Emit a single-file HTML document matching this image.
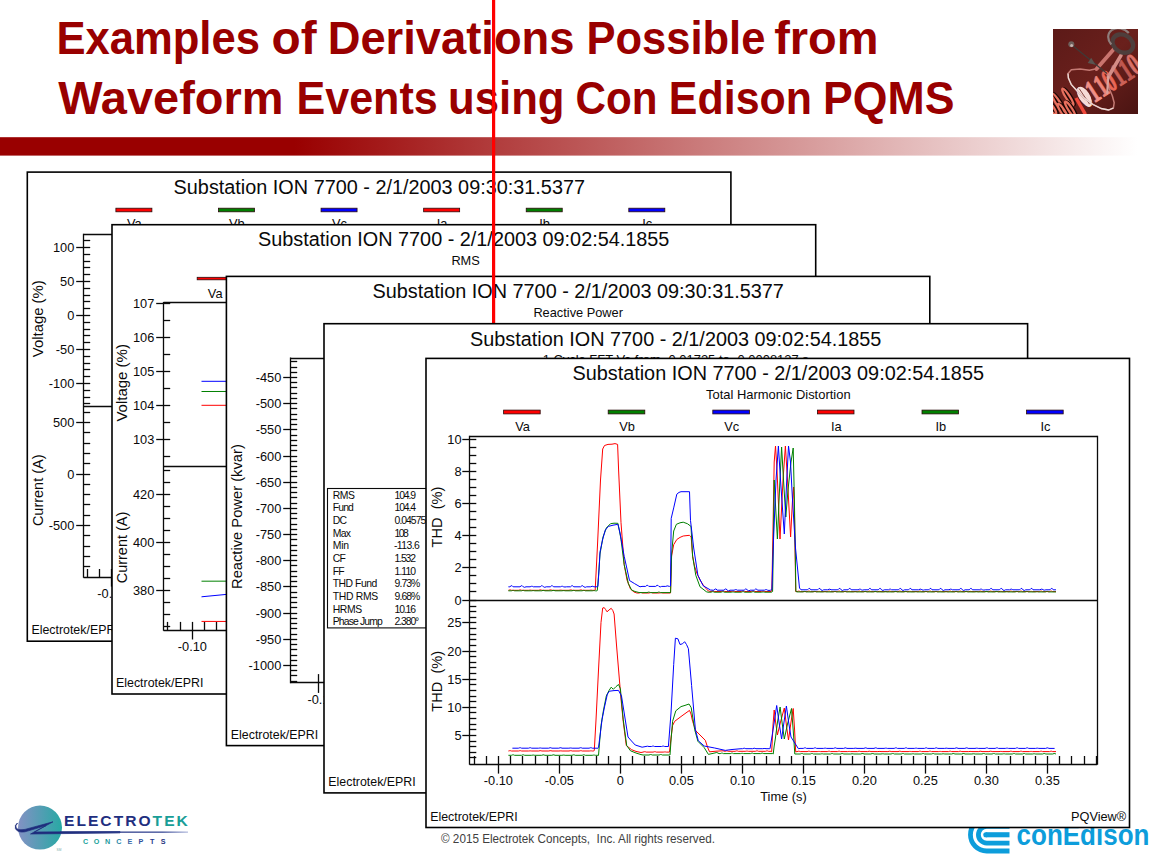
<!DOCTYPE html>
<html><head><meta charset="utf-8"><title>Examples of Derivations Possible from Waveform Events using Con Edison PQMS</title>
<style>html,body{margin:0;padding:0;background:#fff;overflow:hidden}svg{display:block}text{font-family:"Liberation Sans",sans-serif}</style>
</head><body>
<svg width="1155" height="855" viewBox="0 0 1155 855">
<defs>
<linearGradient id="bar" x1="0" y1="0" x2="1" y2="0">
<stop offset="0" stop-color="#990000"/><stop offset="0.255" stop-color="#990000"/>
<stop offset="0.985" stop-color="#ffffff"/><stop offset="1" stop-color="#ffffff"/>
</linearGradient>
<linearGradient id="lg1" x1="0" y1="0" x2="1" y2="1">
<stop offset="0" stop-color="#5c1a18"/><stop offset="0.5" stop-color="#6a201c"/><stop offset="1" stop-color="#4a1412"/>
</linearGradient>
<linearGradient id="ek" x1="0" y1="0" x2="1" y2="0">
<stop offset="0" stop-color="#8391c4"/><stop offset="1" stop-color="#27a9a4"/>
</linearGradient>
<linearGradient id="ekl" x1="0" y1="0" x2="1" y2="0">
<stop offset="0" stop-color="#1e2c7c"/><stop offset="0.8" stop-color="#3a4a96"/><stop offset="1" stop-color="#b8c0e0"/>
</linearGradient>
<clipPath id="cl1"><rect x="1053" y="29" width="85" height="85"/></clipPath>
</defs>
<rect x="0" y="0" width="1155" height="855" fill="#fff"/>
<text x="0" y="0" font-size="46.5" font-weight="bold" fill="#990000" transform="translate(56.39 54.4) scale(0.9378 1)">Examples</text>
<text x="0" y="0" font-size="46.5" font-weight="bold" fill="#990000" transform="translate(271.45 54.4) scale(1.0284 1)">of</text>
<text x="0" y="0" font-size="46.5" font-weight="bold" fill="#990000" transform="translate(327.68 54.4) scale(0.9746 1)">Derivations</text>
<text x="0" y="0" font-size="46.5" font-weight="bold" fill="#990000" transform="translate(586.4 54.4) scale(0.9362 1)">Possible</text>
<text x="0" y="0" font-size="46.5" font-weight="bold" fill="#990000" transform="translate(774.19 54.4) scale(1.01 1)">from</text>
<text x="0" y="0" font-size="46.5" font-weight="bold" fill="#990000" transform="translate(58.2 113.6) scale(1.0104 1)">Waveform</text>
<text x="0" y="0" font-size="46.5" font-weight="bold" fill="#990000" transform="translate(296.43 113.6) scale(0.9268 1)">Events</text>
<text x="0" y="0" font-size="46.5" font-weight="bold" fill="#990000" transform="translate(447.97 113.6) scale(0.9407 1)">using</text>
<text x="0" y="0" font-size="46.5" font-weight="bold" fill="#990000" transform="translate(575.58 113.6) scale(0.9077 1)">Con</text>
<text x="0" y="0" font-size="46.5" font-weight="bold" fill="#990000" transform="translate(668.84 113.6) scale(0.9235 1)">Edison</text>
<text x="0" y="0" font-size="46.5" font-weight="bold" fill="#990000" transform="translate(823.02 113.6) scale(0.9598 1)">PQMS</text>
<rect x="0" y="137.2" width="1155" height="18.4" fill="url(#bar)"/>
<g clip-path="url(#cl1)">
<rect x="1053" y="29" width="85" height="85" fill="url(#lg1)"/>
<g fill="none">
<ellipse cx="1057.9" cy="102.7" rx="2.0" ry="11.1" stroke="#1a0504" stroke-width="2.4" transform="rotate(-33 1057.9 102.7) translate(1.2 0.6)"/>
<ellipse cx="1057.9" cy="102.7" rx="2.0" ry="11.1" stroke="#e8705e" stroke-width="2.2" transform="rotate(-33 1057.9 102.7)"/>
<ellipse cx="1067.8" cy="96.9" rx="2.0" ry="9.9" stroke="#1a0504" stroke-width="2.4" transform="rotate(-33 1067.8 96.9) translate(1.2 0.6)"/>
<ellipse cx="1067.8" cy="96.9" rx="2.0" ry="9.9" stroke="#e8705e" stroke-width="2.2" transform="rotate(-33 1067.8 96.9)"/>
<ellipse cx="1062.5" cy="110.9" rx="2.0" ry="8.2" stroke="#1a0504" stroke-width="2.4" transform="rotate(-33 1062.5 110.9) translate(1.2 0.6)"/>
<ellipse cx="1062.5" cy="110.9" rx="2.0" ry="8.2" stroke="#e8705e" stroke-width="2.2" transform="rotate(-33 1062.5 110.9)"/>
<ellipse cx="1070.1" cy="109.1" rx="2.0" ry="8.8" stroke="#1a0504" stroke-width="2.4" transform="rotate(-33 1070.1 109.1) translate(1.2 0.6)"/>
<ellipse cx="1070.1" cy="109.1" rx="2.0" ry="8.8" stroke="#e8705e" stroke-width="2.2" transform="rotate(-33 1070.1 109.1)"/>
<ellipse cx="1052.0" cy="108.5" rx="2.0" ry="7.0" stroke="#1a0504" stroke-width="2.4" transform="rotate(-33 1052.0 108.5) translate(1.2 0.6)"/>
<ellipse cx="1052.0" cy="108.5" rx="2.0" ry="7.0" stroke="#e8705e" stroke-width="2.2" transform="rotate(-33 1052.0 108.5)"/>
<line x1="1076.0" y1="98.0" x2="1085.4" y2="114.4" stroke="#f04a3c" stroke-width="3.4"/>
</g>
<text x="0" y="0" font-size="32" style="font-family:&quot;Liberation Serif&quot;,serif" font-weight="bold" stroke-width="0.9" transform="translate(1085.9 108.4) rotate(-33) scale(0.62 1)"><tspan fill="#f8e0da" stroke="#f8e0da">0</tspan><tspan fill="#f09088" stroke="#f09088">1</tspan><tspan fill="#ec8478" stroke="#ec8478">1</tspan><tspan fill="#e86858" stroke="#e86858">0</tspan><tspan fill="#cc6258" stroke="#cc6258">1</tspan><tspan fill="#c05850" stroke="#c05850">1</tspan><tspan fill="#d87068" stroke="#d87068">0</tspan></text>
<ellipse cx="1084.3" cy="96.2" rx="5.4" ry="10.6" fill="#f6dcd6" transform="rotate(-33 1084.3 96.2)"/>
<line x1="1079.2" y1="88.6" x2="1089.6" y2="104.2" stroke="#7a3a34" stroke-width="0.9"/>
<polyline points="1096.5,68.8 1089.4,70.2 1080.1,69.0 1071.3,69.7 1068.0,73.5 1068.4,78.1 1071.3,84.6 1077.2,91.0 1084.8,98.6 1093.0,104.5 1101.1,108.5 1108.7,110.0 1113.4,108.0 1114.2,102.7 1112.3,95.7 1109.3,88.7 1107.8,82.8 1107.6,77.0" fill="none" stroke="#c47a74" stroke-width="1.5" stroke-linejoin="round"/>
<polyline points="1068.0,73.5 1068.4,78.1 1071.3,84.6 1077.2,91.0 1084.8,98.6 1093.0,104.5 1101.1,108.5 1108.7,110.0 1113.4,108.0" fill="none" stroke="#eadcd8" stroke-width="1.3" stroke-linejoin="round"/>
<line x1="1114.6" y1="48.3" x2="1096.5" y2="69.0" stroke="#c9746e" stroke-width="3.8" stroke-linecap="round"/>
<line x1="1121.0" y1="55.3" x2="1108.2" y2="77.0" stroke="#d48c86" stroke-width="3.6" stroke-linecap="round"/>
<line x1="1108.2" y1="77.0" x2="1107.2" y2="93.3" stroke="#d9a09a" stroke-width="2.2" stroke-linecap="round"/>
<ellipse cx="1122.8" cy="43.6" rx="10.8" ry="8.6" fill="none" stroke="#4e3e3c" stroke-width="4.4" transform="rotate(30 1122.8 43.6)"/>
<path d="M1111.3 44.6 A11.5 9.4 30 0 1 1128.8 33.1" fill="none" stroke="#8e7e7c" stroke-width="2.2"/>
<line x1="1073.1" y1="46.0" x2="1107.0" y2="73.5" stroke="#3e3a38" stroke-width="1.1"/>
<circle cx="1071.3" cy="44.2" r="3" fill="#6e605c"/>
<circle cx="1071.6" cy="45.400000000000006" r="1.5" fill="#c8b4b0"/>
<path d="M1095.5 64.7 L1091.2 57.7 L1087.7 62.9 Z" fill="#5a5450"/>
</g>
<circle cx="40" cy="827.6" r="22" fill="url(#ek)"/>
<path d="M17.5 823 Q14.6 826 16.6 828.6 Q19 830.6 25 829.4 L53 821.8 L34.5 832 L120 831.5 L120 832.9 L30.5 834 L46 825.6 L25 831.8 Q17.5 833 15.4 828.6 Q14.4 825 17.5 823 Z" fill="#1e2c7c" stroke="#1e2c7c" stroke-width="0.7" stroke-linejoin="round"/>
<rect x="60" y="831.5" width="128" height="1.3" fill="url(#ekl)"/>
<text transform="translate(64 826.4) scale(1.09 1)" x="0" y="0" font-size="14.3" font-weight="bold" textLength="113.6" lengthAdjust="spacing"><tspan fill="#1f2f80">ELECTRO</tspan><tspan fill="#199e97">TEK</tspan></text>
<text x="85.5" y="843.8" font-size="7.2" text-anchor="middle" font-weight="bold" fill="#1aa39b">C</text>
<text x="96.6" y="843.8" font-size="7.2" text-anchor="middle" font-weight="bold" fill="#1aa39b">O</text>
<text x="107.7" y="843.8" font-size="7.2" text-anchor="middle" font-weight="bold" fill="#1f9aa0">N</text>
<text x="118.8" y="843.8" font-size="7.2" text-anchor="middle" font-weight="bold" fill="#2a88a8">C</text>
<text x="129.9" y="843.8" font-size="7.2" text-anchor="middle" font-weight="bold" fill="#3a6aa8">E</text>
<text x="141" y="843.8" font-size="7.2" text-anchor="middle" font-weight="bold" fill="#30509a">P</text>
<text x="152.1" y="843.8" font-size="7.2" text-anchor="middle" font-weight="bold" fill="#283c8c">T</text>
<text x="163.2" y="843.8" font-size="7.2" text-anchor="middle" font-weight="bold" fill="#24347f">S</text>
<text x="56.5" y="850.6" font-size="3.2" fill="#7aa">SM</text>
<g fill="none" stroke="#0d9ddb">
<path d="M1009.5 818.5 L986.7 818.5 A16.25 16.25 0 0 0 986.7 851 L1009.5 851" stroke-width="4.8"/>
<path d="M1009.5 826.45 L986.7 826.45 A8.3 8.3 0 0 0 986.7 843.05 L1009.5 843.05" stroke-width="4.8"/>
<path d="M985.8 834.75 L1009.5 834.75" stroke-width="5.1"/>
</g>
<circle cx="985.8" cy="834.75" r="2.55" fill="#0d9ddb"/>
<text x="1016.6" y="845.4" font-size="30" textLength="132.8" lengthAdjust="spacingAndGlyphs" font-weight="bold" fill="#0d9ddb">conEdison</text>
<text x="441" y="843" font-size="12.2" textLength="274" lengthAdjust="spacingAndGlyphs" fill="#404040" xml:space="preserve">© 2015 Electrotek Concepts,  Inc. All rights reserved.</text>
<rect x="27.3" y="172.1" width="703.6" height="469.1" fill="#fff" stroke="#000" stroke-width="1.6"/>
<text x="379.3" y="193.6" font-size="19.6" text-anchor="middle" textLength="411.4" lengthAdjust="spacingAndGlyphs" fill="#0a0a0a">Substation ION 7700 - 2/1/2003 09:30:31.5377</text>
<rect x="115.89" y="208.2" width="36" height="3.6" fill="#ff0000" stroke="#2a0a0a" stroke-width="0.8"/>
<text x="134.29" y="228.3" font-size="12.8" text-anchor="middle" fill="#0a0a0a">Va</text>
<rect x="218.47" y="208.2" width="36" height="3.6" fill="#008000" stroke="#2a0a0a" stroke-width="0.8"/>
<text x="236.88" y="228.3" font-size="12.8" text-anchor="middle" fill="#0a0a0a">Vb</text>
<rect x="321.06" y="208.2" width="36" height="3.6" fill="#0000ff" stroke="#2a0a0a" stroke-width="0.8"/>
<text x="339.46" y="228.3" font-size="12.8" text-anchor="middle" fill="#0a0a0a">Vc</text>
<rect x="423.64" y="208.2" width="36" height="3.6" fill="#ff0000" stroke="#2a0a0a" stroke-width="0.8"/>
<text x="442.04" y="228.3" font-size="12.8" text-anchor="middle" fill="#0a0a0a">Ia</text>
<rect x="526.23" y="208.2" width="36" height="3.6" fill="#008000" stroke="#2a0a0a" stroke-width="0.8"/>
<text x="544.62" y="228.3" font-size="12.8" text-anchor="middle" fill="#0a0a0a">Ib</text>
<rect x="628.81" y="208.2" width="36" height="3.6" fill="#0000ff" stroke="#2a0a0a" stroke-width="0.8"/>
<text x="647.21" y="228.3" font-size="12.8" text-anchor="middle" fill="#0a0a0a">Ic</text>
<line x1="83.5" y1="234.5" x2="699" y2="234.5" stroke="#0a0a0a" stroke-width="1.3"/>
<line x1="83.5" y1="406.5" x2="699" y2="406.5" stroke="#0a0a0a" stroke-width="1.3"/>
<line x1="83.5" y1="577.5" x2="699" y2="577.5" stroke="#0a0a0a" stroke-width="1.3"/>
<line x1="83.5" y1="233.75" x2="83.5" y2="577.85" stroke="#0a0a0a" stroke-width="1.3"/>
<line x1="699.5" y1="234.4" x2="699.5" y2="577.2" stroke="#0a0a0a" stroke-width="1.3"/>
<line x1="83.5" y1="403.5" x2="90.2" y2="403.5" stroke="#0a0a0a" stroke-width="1.3"/>
<line x1="83.5" y1="397.5" x2="90.2" y2="397.5" stroke="#0a0a0a" stroke-width="1.3"/>
<line x1="83.5" y1="390.5" x2="90.2" y2="390.5" stroke="#0a0a0a" stroke-width="1.3"/>
<line x1="76.2" y1="383.5" x2="90.2" y2="383.5" stroke="#0a0a0a" stroke-width="1.3"/>
<text x="74.3" y="387.9" font-size="12.8" text-anchor="end" fill="#0a0a0a">-100</text>
<line x1="83.5" y1="376.5" x2="90.2" y2="376.5" stroke="#0a0a0a" stroke-width="1.3"/>
<line x1="83.5" y1="369.5" x2="90.2" y2="369.5" stroke="#0a0a0a" stroke-width="1.3"/>
<line x1="83.5" y1="363.5" x2="90.2" y2="363.5" stroke="#0a0a0a" stroke-width="1.3"/>
<line x1="83.5" y1="356.5" x2="90.2" y2="356.5" stroke="#0a0a0a" stroke-width="1.3"/>
<line x1="76.2" y1="349.5" x2="90.2" y2="349.5" stroke="#0a0a0a" stroke-width="1.3"/>
<text x="74.3" y="353.9" font-size="12.8" text-anchor="end" fill="#0a0a0a">-50</text>
<line x1="83.5" y1="342.5" x2="90.2" y2="342.5" stroke="#0a0a0a" stroke-width="1.3"/>
<line x1="83.5" y1="335.5" x2="90.2" y2="335.5" stroke="#0a0a0a" stroke-width="1.3"/>
<line x1="83.5" y1="329.5" x2="90.2" y2="329.5" stroke="#0a0a0a" stroke-width="1.3"/>
<line x1="83.5" y1="322.5" x2="90.2" y2="322.5" stroke="#0a0a0a" stroke-width="1.3"/>
<line x1="76.2" y1="315.5" x2="90.2" y2="315.5" stroke="#0a0a0a" stroke-width="1.3"/>
<text x="74.3" y="319.9" font-size="12.8" text-anchor="end" fill="#0a0a0a">0</text>
<line x1="83.5" y1="308.5" x2="90.2" y2="308.5" stroke="#0a0a0a" stroke-width="1.3"/>
<line x1="83.5" y1="301.5" x2="90.2" y2="301.5" stroke="#0a0a0a" stroke-width="1.3"/>
<line x1="83.5" y1="295.5" x2="90.2" y2="295.5" stroke="#0a0a0a" stroke-width="1.3"/>
<line x1="83.5" y1="288.5" x2="90.2" y2="288.5" stroke="#0a0a0a" stroke-width="1.3"/>
<line x1="76.2" y1="281.5" x2="90.2" y2="281.5" stroke="#0a0a0a" stroke-width="1.3"/>
<text x="74.3" y="285.9" font-size="12.8" text-anchor="end" fill="#0a0a0a">50</text>
<line x1="83.5" y1="274.5" x2="90.2" y2="274.5" stroke="#0a0a0a" stroke-width="1.3"/>
<line x1="83.5" y1="267.5" x2="90.2" y2="267.5" stroke="#0a0a0a" stroke-width="1.3"/>
<line x1="83.5" y1="261.5" x2="90.2" y2="261.5" stroke="#0a0a0a" stroke-width="1.3"/>
<line x1="83.5" y1="254.5" x2="90.2" y2="254.5" stroke="#0a0a0a" stroke-width="1.3"/>
<line x1="76.2" y1="247.5" x2="90.2" y2="247.5" stroke="#0a0a0a" stroke-width="1.3"/>
<text x="74.3" y="251.9" font-size="12.8" text-anchor="end" fill="#0a0a0a">100</text>
<line x1="83.5" y1="240.5" x2="90.2" y2="240.5" stroke="#0a0a0a" stroke-width="1.3"/>
<line x1="83.5" y1="566.5" x2="90.2" y2="566.5" stroke="#0a0a0a" stroke-width="1.3"/>
<line x1="83.5" y1="556.5" x2="90.2" y2="556.5" stroke="#0a0a0a" stroke-width="1.3"/>
<line x1="83.5" y1="546.5" x2="90.2" y2="546.5" stroke="#0a0a0a" stroke-width="1.3"/>
<line x1="83.5" y1="535.5" x2="90.2" y2="535.5" stroke="#0a0a0a" stroke-width="1.3"/>
<line x1="76.2" y1="525.5" x2="90.2" y2="525.5" stroke="#0a0a0a" stroke-width="1.3"/>
<text x="74.3" y="530.1" font-size="12.8" text-anchor="end" fill="#0a0a0a">-500</text>
<line x1="83.5" y1="515.5" x2="90.2" y2="515.5" stroke="#0a0a0a" stroke-width="1.3"/>
<line x1="83.5" y1="504.5" x2="90.2" y2="504.5" stroke="#0a0a0a" stroke-width="1.3"/>
<line x1="83.5" y1="494.5" x2="90.2" y2="494.5" stroke="#0a0a0a" stroke-width="1.3"/>
<line x1="83.5" y1="484.5" x2="90.2" y2="484.5" stroke="#0a0a0a" stroke-width="1.3"/>
<line x1="76.2" y1="474.5" x2="90.2" y2="474.5" stroke="#0a0a0a" stroke-width="1.3"/>
<text x="74.3" y="478.5" font-size="12.8" text-anchor="end" fill="#0a0a0a">0</text>
<line x1="83.5" y1="463.5" x2="90.2" y2="463.5" stroke="#0a0a0a" stroke-width="1.3"/>
<line x1="83.5" y1="453.5" x2="90.2" y2="453.5" stroke="#0a0a0a" stroke-width="1.3"/>
<line x1="83.5" y1="443.5" x2="90.2" y2="443.5" stroke="#0a0a0a" stroke-width="1.3"/>
<line x1="83.5" y1="432.5" x2="90.2" y2="432.5" stroke="#0a0a0a" stroke-width="1.3"/>
<line x1="76.2" y1="422.5" x2="90.2" y2="422.5" stroke="#0a0a0a" stroke-width="1.3"/>
<text x="74.3" y="426.9" font-size="12.8" text-anchor="end" fill="#0a0a0a">500</text>
<line x1="83.5" y1="412.5" x2="90.2" y2="412.5" stroke="#0a0a0a" stroke-width="1.3"/>
<text x="42.8" y="318.7" font-size="14.6" text-anchor="middle" textLength="77" lengthAdjust="spacingAndGlyphs" transform="rotate(-90 42.8 318.7)" fill="#0a0a0a">Voltage (%)</text>
<text x="42.8" y="490.3" font-size="14.6" text-anchor="middle" textLength="71.6" lengthAdjust="spacingAndGlyphs" transform="rotate(-90 42.8 490.3)" fill="#0a0a0a">Current (A)</text>
<line x1="87.5" y1="569" x2="87.5" y2="577.2" stroke="#0a0a0a" stroke-width="1.3"/>
<line x1="99.5" y1="569" x2="99.5" y2="577.2" stroke="#0a0a0a" stroke-width="1.3"/>
<line x1="111.5" y1="569" x2="111.5" y2="586.6" stroke="#0a0a0a" stroke-width="1.3"/>
<text x="111.9" y="597.6" font-size="12.8" text-anchor="middle" fill="#0a0a0a">-0.10</text>
<line x1="124.5" y1="569" x2="124.5" y2="577.2" stroke="#0a0a0a" stroke-width="1.3"/>
<line x1="136.5" y1="569" x2="136.5" y2="577.2" stroke="#0a0a0a" stroke-width="1.3"/>
<line x1="148.5" y1="569" x2="148.5" y2="577.2" stroke="#0a0a0a" stroke-width="1.3"/>
<line x1="160.5" y1="569" x2="160.5" y2="577.2" stroke="#0a0a0a" stroke-width="1.3"/>
<line x1="173.5" y1="569" x2="173.5" y2="586.6" stroke="#0a0a0a" stroke-width="1.3"/>
<text x="173.1" y="597.6" font-size="12.8" text-anchor="middle" fill="#0a0a0a">-0.05</text>
<line x1="185.5" y1="569" x2="185.5" y2="577.2" stroke="#0a0a0a" stroke-width="1.3"/>
<line x1="197.5" y1="569" x2="197.5" y2="577.2" stroke="#0a0a0a" stroke-width="1.3"/>
<line x1="209.5" y1="569" x2="209.5" y2="577.2" stroke="#0a0a0a" stroke-width="1.3"/>
<line x1="222.5" y1="569" x2="222.5" y2="577.2" stroke="#0a0a0a" stroke-width="1.3"/>
<line x1="234.5" y1="569" x2="234.5" y2="586.6" stroke="#0a0a0a" stroke-width="1.3"/>
<text x="234.3" y="597.6" font-size="12.8" text-anchor="middle" fill="#0a0a0a">0</text>
<line x1="246.5" y1="569" x2="246.5" y2="577.2" stroke="#0a0a0a" stroke-width="1.3"/>
<line x1="258.5" y1="569" x2="258.5" y2="577.2" stroke="#0a0a0a" stroke-width="1.3"/>
<line x1="271.5" y1="569" x2="271.5" y2="577.2" stroke="#0a0a0a" stroke-width="1.3"/>
<line x1="283.5" y1="569" x2="283.5" y2="577.2" stroke="#0a0a0a" stroke-width="1.3"/>
<line x1="295.5" y1="569" x2="295.5" y2="586.6" stroke="#0a0a0a" stroke-width="1.3"/>
<text x="295.5" y="597.6" font-size="12.8" text-anchor="middle" fill="#0a0a0a">0.05</text>
<line x1="307.5" y1="569" x2="307.5" y2="577.2" stroke="#0a0a0a" stroke-width="1.3"/>
<line x1="319.5" y1="569" x2="319.5" y2="577.2" stroke="#0a0a0a" stroke-width="1.3"/>
<line x1="332.5" y1="569" x2="332.5" y2="577.2" stroke="#0a0a0a" stroke-width="1.3"/>
<line x1="344.5" y1="569" x2="344.5" y2="577.2" stroke="#0a0a0a" stroke-width="1.3"/>
<line x1="356.5" y1="569" x2="356.5" y2="586.6" stroke="#0a0a0a" stroke-width="1.3"/>
<text x="356.7" y="597.6" font-size="12.8" text-anchor="middle" fill="#0a0a0a">0.10</text>
<line x1="368.5" y1="569" x2="368.5" y2="577.2" stroke="#0a0a0a" stroke-width="1.3"/>
<line x1="381.5" y1="569" x2="381.5" y2="577.2" stroke="#0a0a0a" stroke-width="1.3"/>
<line x1="393.5" y1="569" x2="393.5" y2="577.2" stroke="#0a0a0a" stroke-width="1.3"/>
<line x1="405.5" y1="569" x2="405.5" y2="577.2" stroke="#0a0a0a" stroke-width="1.3"/>
<line x1="417.5" y1="569" x2="417.5" y2="586.6" stroke="#0a0a0a" stroke-width="1.3"/>
<text x="417.9" y="597.6" font-size="12.8" text-anchor="middle" fill="#0a0a0a">0.15</text>
<line x1="430.5" y1="569" x2="430.5" y2="577.2" stroke="#0a0a0a" stroke-width="1.3"/>
<line x1="442.5" y1="569" x2="442.5" y2="577.2" stroke="#0a0a0a" stroke-width="1.3"/>
<line x1="454.5" y1="569" x2="454.5" y2="577.2" stroke="#0a0a0a" stroke-width="1.3"/>
<line x1="466.5" y1="569" x2="466.5" y2="577.2" stroke="#0a0a0a" stroke-width="1.3"/>
<line x1="479.5" y1="569" x2="479.5" y2="586.6" stroke="#0a0a0a" stroke-width="1.3"/>
<text x="479.1" y="597.6" font-size="12.8" text-anchor="middle" fill="#0a0a0a">0.20</text>
<line x1="491.5" y1="569" x2="491.5" y2="577.2" stroke="#0a0a0a" stroke-width="1.3"/>
<line x1="503.5" y1="569" x2="503.5" y2="577.2" stroke="#0a0a0a" stroke-width="1.3"/>
<line x1="515.5" y1="569" x2="515.5" y2="577.2" stroke="#0a0a0a" stroke-width="1.3"/>
<line x1="528.5" y1="569" x2="528.5" y2="577.2" stroke="#0a0a0a" stroke-width="1.3"/>
<line x1="540.5" y1="569" x2="540.5" y2="586.6" stroke="#0a0a0a" stroke-width="1.3"/>
<text x="540.3" y="597.6" font-size="12.8" text-anchor="middle" fill="#0a0a0a">0.25</text>
<line x1="552.5" y1="569" x2="552.5" y2="577.2" stroke="#0a0a0a" stroke-width="1.3"/>
<line x1="564.5" y1="569" x2="564.5" y2="577.2" stroke="#0a0a0a" stroke-width="1.3"/>
<line x1="577.5" y1="569" x2="577.5" y2="577.2" stroke="#0a0a0a" stroke-width="1.3"/>
<line x1="589.5" y1="569" x2="589.5" y2="577.2" stroke="#0a0a0a" stroke-width="1.3"/>
<line x1="601.5" y1="569" x2="601.5" y2="586.6" stroke="#0a0a0a" stroke-width="1.3"/>
<text x="601.5" y="597.6" font-size="12.8" text-anchor="middle" fill="#0a0a0a">0.30</text>
<line x1="613.5" y1="569" x2="613.5" y2="577.2" stroke="#0a0a0a" stroke-width="1.3"/>
<line x1="625.5" y1="569" x2="625.5" y2="577.2" stroke="#0a0a0a" stroke-width="1.3"/>
<line x1="638.5" y1="569" x2="638.5" y2="577.2" stroke="#0a0a0a" stroke-width="1.3"/>
<line x1="650.5" y1="569" x2="650.5" y2="577.2" stroke="#0a0a0a" stroke-width="1.3"/>
<line x1="662.5" y1="569" x2="662.5" y2="586.6" stroke="#0a0a0a" stroke-width="1.3"/>
<text x="662.7" y="597.6" font-size="12.8" text-anchor="middle" fill="#0a0a0a">0.35</text>
<line x1="674.5" y1="569" x2="674.5" y2="577.2" stroke="#0a0a0a" stroke-width="1.3"/>
<line x1="687.5" y1="569" x2="687.5" y2="577.2" stroke="#0a0a0a" stroke-width="1.3"/>
<text x="31.4" y="633.9" font-size="12.8" textLength="87.4" lengthAdjust="spacingAndGlyphs" fill="#0a0a0a">Electrotek/EPRI</text>
<rect x="112" y="224.7" width="703.7" height="469.3" fill="#fff" stroke="#000" stroke-width="1.6"/>
<text x="463.7" y="246.3" font-size="19.6" text-anchor="middle" textLength="411.4" lengthAdjust="spacingAndGlyphs" fill="#0a0a0a">Substation ION 7700 - 2/1/2003 09:02:54.1855</text>
<text x="465.6" y="264.8" font-size="12.8" text-anchor="middle" fill="#0a0a0a">RMS</text>
<rect x="197.18" y="277.3" width="36" height="2.5" fill="#ff0000" stroke="#2a0a0a" stroke-width="0.8"/>
<text x="215.18" y="297.6" font-size="12.8" text-anchor="middle" fill="#0a0a0a">Va</text>
<rect x="300.52" y="277.3" width="36" height="2.5" fill="#008000" stroke="#2a0a0a" stroke-width="0.8"/>
<text x="318.52" y="297.6" font-size="12.8" text-anchor="middle" fill="#0a0a0a">Vb</text>
<rect x="403.88" y="277.3" width="36" height="2.5" fill="#0000ff" stroke="#2a0a0a" stroke-width="0.8"/>
<text x="421.88" y="297.6" font-size="12.8" text-anchor="middle" fill="#0a0a0a">Vc</text>
<rect x="507.23" y="277.3" width="36" height="2.5" fill="#ff0000" stroke="#2a0a0a" stroke-width="0.8"/>
<text x="525.23" y="297.6" font-size="12.8" text-anchor="middle" fill="#0a0a0a">Ia</text>
<rect x="610.58" y="277.3" width="36" height="2.5" fill="#008000" stroke="#2a0a0a" stroke-width="0.8"/>
<text x="628.58" y="297.6" font-size="12.8" text-anchor="middle" fill="#0a0a0a">Ib</text>
<rect x="713.93" y="277.3" width="36" height="2.5" fill="#0000ff" stroke="#2a0a0a" stroke-width="0.8"/>
<text x="731.93" y="297.6" font-size="12.8" text-anchor="middle" fill="#0a0a0a">Ic</text>
<line x1="163.5" y1="302.5" x2="783.6" y2="302.5" stroke="#0a0a0a" stroke-width="1.3"/>
<line x1="163.5" y1="466.5" x2="783.6" y2="466.5" stroke="#0a0a0a" stroke-width="1.3"/>
<line x1="163.5" y1="630.5" x2="783.6" y2="630.5" stroke="#0a0a0a" stroke-width="1.3"/>
<line x1="163.5" y1="302.05" x2="163.5" y2="630.75" stroke="#0a0a0a" stroke-width="1.3"/>
<line x1="163.5" y1="456.5" x2="170.2" y2="456.5" stroke="#0a0a0a" stroke-width="1.3"/>
<line x1="156.2" y1="439.5" x2="170.2" y2="439.5" stroke="#0a0a0a" stroke-width="1.3"/>
<text x="154.3" y="444.4" font-size="12.8" text-anchor="end" fill="#0a0a0a">103</text>
<line x1="163.5" y1="422.5" x2="170.2" y2="422.5" stroke="#0a0a0a" stroke-width="1.3"/>
<line x1="156.2" y1="405.5" x2="170.2" y2="405.5" stroke="#0a0a0a" stroke-width="1.3"/>
<text x="154.3" y="410.4" font-size="12.8" text-anchor="end" fill="#0a0a0a">104</text>
<line x1="163.5" y1="388.5" x2="170.2" y2="388.5" stroke="#0a0a0a" stroke-width="1.3"/>
<line x1="156.2" y1="371.5" x2="170.2" y2="371.5" stroke="#0a0a0a" stroke-width="1.3"/>
<text x="154.3" y="376.4" font-size="12.8" text-anchor="end" fill="#0a0a0a">105</text>
<line x1="163.5" y1="354.5" x2="170.2" y2="354.5" stroke="#0a0a0a" stroke-width="1.3"/>
<line x1="156.2" y1="337.5" x2="170.2" y2="337.5" stroke="#0a0a0a" stroke-width="1.3"/>
<text x="154.3" y="342.4" font-size="12.8" text-anchor="end" fill="#0a0a0a">106</text>
<line x1="163.5" y1="320.5" x2="170.2" y2="320.5" stroke="#0a0a0a" stroke-width="1.3"/>
<line x1="156.2" y1="303.5" x2="170.2" y2="303.5" stroke="#0a0a0a" stroke-width="1.3"/>
<text x="154.3" y="308.4" font-size="12.8" text-anchor="end" fill="#0a0a0a">107</text>
<line x1="163.5" y1="626.5" x2="170.2" y2="626.5" stroke="#0a0a0a" stroke-width="1.3"/>
<line x1="163.5" y1="614.5" x2="170.2" y2="614.5" stroke="#0a0a0a" stroke-width="1.3"/>
<line x1="163.5" y1="602.5" x2="170.2" y2="602.5" stroke="#0a0a0a" stroke-width="1.3"/>
<line x1="156.2" y1="590.5" x2="170.2" y2="590.5" stroke="#0a0a0a" stroke-width="1.3"/>
<text x="154.3" y="594.9" font-size="12.8" text-anchor="end" fill="#0a0a0a">380</text>
<line x1="163.5" y1="578.5" x2="170.2" y2="578.5" stroke="#0a0a0a" stroke-width="1.3"/>
<line x1="163.5" y1="566.5" x2="170.2" y2="566.5" stroke="#0a0a0a" stroke-width="1.3"/>
<line x1="163.5" y1="554.5" x2="170.2" y2="554.5" stroke="#0a0a0a" stroke-width="1.3"/>
<line x1="156.2" y1="542.5" x2="170.2" y2="542.5" stroke="#0a0a0a" stroke-width="1.3"/>
<text x="154.3" y="546.9" font-size="12.8" text-anchor="end" fill="#0a0a0a">400</text>
<line x1="163.5" y1="530.5" x2="170.2" y2="530.5" stroke="#0a0a0a" stroke-width="1.3"/>
<line x1="163.5" y1="518.5" x2="170.2" y2="518.5" stroke="#0a0a0a" stroke-width="1.3"/>
<line x1="163.5" y1="506.5" x2="170.2" y2="506.5" stroke="#0a0a0a" stroke-width="1.3"/>
<line x1="156.2" y1="494.5" x2="170.2" y2="494.5" stroke="#0a0a0a" stroke-width="1.3"/>
<text x="154.3" y="498.9" font-size="12.8" text-anchor="end" fill="#0a0a0a">420</text>
<line x1="163.5" y1="482.5" x2="170.2" y2="482.5" stroke="#0a0a0a" stroke-width="1.3"/>
<line x1="163.5" y1="470.5" x2="170.2" y2="470.5" stroke="#0a0a0a" stroke-width="1.3"/>
<text x="127.2" y="382.8" font-size="14.6" text-anchor="middle" textLength="77.5" lengthAdjust="spacingAndGlyphs" transform="rotate(-90 127.2 382.8)" fill="#0a0a0a">Voltage (%)</text>
<text x="127.2" y="547.5" font-size="14.6" text-anchor="middle" textLength="71.6" lengthAdjust="spacingAndGlyphs" transform="rotate(-90 127.2 547.5)" fill="#0a0a0a">Current (A)</text>
<line x1="167.5" y1="621.9" x2="167.5" y2="630.1" stroke="#0a0a0a" stroke-width="1.3"/>
<line x1="180.5" y1="621.9" x2="180.5" y2="630.1" stroke="#0a0a0a" stroke-width="1.3"/>
<line x1="192.5" y1="621.9" x2="192.5" y2="639.5" stroke="#0a0a0a" stroke-width="1.3"/>
<text x="192.4" y="650.5" font-size="12.8" text-anchor="middle" fill="#0a0a0a">-0.10</text>
<line x1="204.5" y1="621.9" x2="204.5" y2="630.1" stroke="#0a0a0a" stroke-width="1.3"/>
<line x1="216.5" y1="621.9" x2="216.5" y2="630.1" stroke="#0a0a0a" stroke-width="1.3"/>
<line x1="229.5" y1="621.9" x2="229.5" y2="630.1" stroke="#0a0a0a" stroke-width="1.3"/>
<line x1="241.5" y1="621.9" x2="241.5" y2="630.1" stroke="#0a0a0a" stroke-width="1.3"/>
<line x1="253.5" y1="621.9" x2="253.5" y2="639.5" stroke="#0a0a0a" stroke-width="1.3"/>
<text x="253.6" y="650.5" font-size="12.8" text-anchor="middle" fill="#0a0a0a">-0.05</text>
<line x1="265.5" y1="621.9" x2="265.5" y2="630.1" stroke="#0a0a0a" stroke-width="1.3"/>
<line x1="278.5" y1="621.9" x2="278.5" y2="630.1" stroke="#0a0a0a" stroke-width="1.3"/>
<line x1="290.5" y1="621.9" x2="290.5" y2="630.1" stroke="#0a0a0a" stroke-width="1.3"/>
<line x1="302.5" y1="621.9" x2="302.5" y2="630.1" stroke="#0a0a0a" stroke-width="1.3"/>
<line x1="314.5" y1="621.9" x2="314.5" y2="639.5" stroke="#0a0a0a" stroke-width="1.3"/>
<text x="314.8" y="650.5" font-size="12.8" text-anchor="middle" fill="#0a0a0a">0</text>
<line x1="327.5" y1="621.9" x2="327.5" y2="630.1" stroke="#0a0a0a" stroke-width="1.3"/>
<line x1="339.5" y1="621.9" x2="339.5" y2="630.1" stroke="#0a0a0a" stroke-width="1.3"/>
<line x1="351.5" y1="621.9" x2="351.5" y2="630.1" stroke="#0a0a0a" stroke-width="1.3"/>
<line x1="363.5" y1="621.9" x2="363.5" y2="630.1" stroke="#0a0a0a" stroke-width="1.3"/>
<line x1="376.5" y1="621.9" x2="376.5" y2="639.5" stroke="#0a0a0a" stroke-width="1.3"/>
<text x="376" y="650.5" font-size="12.8" text-anchor="middle" fill="#0a0a0a">0.05</text>
<line x1="388.5" y1="621.9" x2="388.5" y2="630.1" stroke="#0a0a0a" stroke-width="1.3"/>
<line x1="400.5" y1="621.9" x2="400.5" y2="630.1" stroke="#0a0a0a" stroke-width="1.3"/>
<line x1="412.5" y1="621.9" x2="412.5" y2="630.1" stroke="#0a0a0a" stroke-width="1.3"/>
<line x1="424.5" y1="621.9" x2="424.5" y2="630.1" stroke="#0a0a0a" stroke-width="1.3"/>
<line x1="437.5" y1="621.9" x2="437.5" y2="639.5" stroke="#0a0a0a" stroke-width="1.3"/>
<text x="437.2" y="650.5" font-size="12.8" text-anchor="middle" fill="#0a0a0a">0.10</text>
<line x1="449.5" y1="621.9" x2="449.5" y2="630.1" stroke="#0a0a0a" stroke-width="1.3"/>
<line x1="461.5" y1="621.9" x2="461.5" y2="630.1" stroke="#0a0a0a" stroke-width="1.3"/>
<line x1="473.5" y1="621.9" x2="473.5" y2="630.1" stroke="#0a0a0a" stroke-width="1.3"/>
<line x1="486.5" y1="621.9" x2="486.5" y2="630.1" stroke="#0a0a0a" stroke-width="1.3"/>
<line x1="498.5" y1="621.9" x2="498.5" y2="639.5" stroke="#0a0a0a" stroke-width="1.3"/>
<text x="498.4" y="650.5" font-size="12.8" text-anchor="middle" fill="#0a0a0a">0.15</text>
<line x1="510.5" y1="621.9" x2="510.5" y2="630.1" stroke="#0a0a0a" stroke-width="1.3"/>
<line x1="522.5" y1="621.9" x2="522.5" y2="630.1" stroke="#0a0a0a" stroke-width="1.3"/>
<line x1="535.5" y1="621.9" x2="535.5" y2="630.1" stroke="#0a0a0a" stroke-width="1.3"/>
<line x1="547.5" y1="621.9" x2="547.5" y2="630.1" stroke="#0a0a0a" stroke-width="1.3"/>
<line x1="559.5" y1="621.9" x2="559.5" y2="639.5" stroke="#0a0a0a" stroke-width="1.3"/>
<text x="559.6" y="650.5" font-size="12.8" text-anchor="middle" fill="#0a0a0a">0.20</text>
<line x1="571.5" y1="621.9" x2="571.5" y2="630.1" stroke="#0a0a0a" stroke-width="1.3"/>
<line x1="584.5" y1="621.9" x2="584.5" y2="630.1" stroke="#0a0a0a" stroke-width="1.3"/>
<line x1="596.5" y1="621.9" x2="596.5" y2="630.1" stroke="#0a0a0a" stroke-width="1.3"/>
<line x1="608.5" y1="621.9" x2="608.5" y2="630.1" stroke="#0a0a0a" stroke-width="1.3"/>
<line x1="620.5" y1="621.9" x2="620.5" y2="639.5" stroke="#0a0a0a" stroke-width="1.3"/>
<text x="620.8" y="650.5" font-size="12.8" text-anchor="middle" fill="#0a0a0a">0.25</text>
<line x1="633.5" y1="621.9" x2="633.5" y2="630.1" stroke="#0a0a0a" stroke-width="1.3"/>
<line x1="645.5" y1="621.9" x2="645.5" y2="630.1" stroke="#0a0a0a" stroke-width="1.3"/>
<line x1="657.5" y1="621.9" x2="657.5" y2="630.1" stroke="#0a0a0a" stroke-width="1.3"/>
<line x1="669.5" y1="621.9" x2="669.5" y2="630.1" stroke="#0a0a0a" stroke-width="1.3"/>
<line x1="682.5" y1="621.9" x2="682.5" y2="639.5" stroke="#0a0a0a" stroke-width="1.3"/>
<text x="682" y="650.5" font-size="12.8" text-anchor="middle" fill="#0a0a0a">0.30</text>
<line x1="694.5" y1="621.9" x2="694.5" y2="630.1" stroke="#0a0a0a" stroke-width="1.3"/>
<line x1="706.5" y1="621.9" x2="706.5" y2="630.1" stroke="#0a0a0a" stroke-width="1.3"/>
<line x1="718.5" y1="621.9" x2="718.5" y2="630.1" stroke="#0a0a0a" stroke-width="1.3"/>
<line x1="730.5" y1="621.9" x2="730.5" y2="630.1" stroke="#0a0a0a" stroke-width="1.3"/>
<line x1="743.5" y1="621.9" x2="743.5" y2="639.5" stroke="#0a0a0a" stroke-width="1.3"/>
<text x="743.2" y="650.5" font-size="12.8" text-anchor="middle" fill="#0a0a0a">0.35</text>
<line x1="755.5" y1="621.9" x2="755.5" y2="630.1" stroke="#0a0a0a" stroke-width="1.3"/>
<line x1="767.5" y1="621.9" x2="767.5" y2="630.1" stroke="#0a0a0a" stroke-width="1.3"/>
<line x1="779.5" y1="621.9" x2="779.5" y2="630.1" stroke="#0a0a0a" stroke-width="1.3"/>
<text x="116" y="686.5" font-size="12.8" textLength="87.4" lengthAdjust="spacingAndGlyphs" fill="#0a0a0a">Electrotek/EPRI</text>
<polyline points="201.5,381.3 320,381.3" fill="none" stroke="#0000ff" stroke-width="1.0" stroke-linejoin="round"/>
<polyline points="201.5,391.5 320,391.3" fill="none" stroke="#008000" stroke-width="1.0" stroke-linejoin="round"/>
<polyline points="201.5,405.3 320,405.3" fill="none" stroke="#ff0000" stroke-width="1.0" stroke-linejoin="round"/>
<polyline points="201.5,581.2 320,581" fill="none" stroke="#008000" stroke-width="1.0" stroke-linejoin="round"/>
<polyline points="201.5,596.8 226.4,594.4 320,590" fill="none" stroke="#0000ff" stroke-width="1.0" stroke-linejoin="round"/>
<polyline points="201.5,621.4 320,621.6" fill="none" stroke="#ff0000" stroke-width="1.0" stroke-linejoin="round"/>
<rect x="226.4" y="276.4" width="703.4" height="469.2" fill="#fff" stroke="#000" stroke-width="1.6"/>
<text x="578.2" y="298" font-size="19.6" text-anchor="middle" textLength="411.4" lengthAdjust="spacingAndGlyphs" fill="#0a0a0a">Substation ION 7700 - 2/1/2003 09:30:31.5377</text>
<text x="578.2" y="316.6" font-size="12.8" text-anchor="middle" fill="#0a0a0a">Reactive Power</text>
<line x1="290.5" y1="358.5" x2="897.6" y2="358.5" stroke="#0a0a0a" stroke-width="1.3"/>
<line x1="290.5" y1="682.5" x2="897.6" y2="682.5" stroke="#0a0a0a" stroke-width="1.3"/>
<line x1="290.5" y1="357.55" x2="290.5" y2="683.25" stroke="#0a0a0a" stroke-width="1.3"/>
<line x1="290.5" y1="681.5" x2="297.2" y2="681.5" stroke="#0a0a0a" stroke-width="1.3"/>
<line x1="290.5" y1="675.5" x2="297.2" y2="675.5" stroke="#0a0a0a" stroke-width="1.3"/>
<line x1="290.5" y1="670.5" x2="297.2" y2="670.5" stroke="#0a0a0a" stroke-width="1.3"/>
<line x1="283.2" y1="665.5" x2="297.2" y2="665.5" stroke="#0a0a0a" stroke-width="1.3"/>
<text x="281.3" y="669.98" font-size="12.8" text-anchor="end" fill="#0a0a0a">-1000</text>
<line x1="290.5" y1="660.5" x2="297.2" y2="660.5" stroke="#0a0a0a" stroke-width="1.3"/>
<line x1="290.5" y1="655.5" x2="297.2" y2="655.5" stroke="#0a0a0a" stroke-width="1.3"/>
<line x1="290.5" y1="649.5" x2="297.2" y2="649.5" stroke="#0a0a0a" stroke-width="1.3"/>
<line x1="290.5" y1="644.5" x2="297.2" y2="644.5" stroke="#0a0a0a" stroke-width="1.3"/>
<line x1="283.2" y1="639.5" x2="297.2" y2="639.5" stroke="#0a0a0a" stroke-width="1.3"/>
<text x="281.3" y="643.8" font-size="12.8" text-anchor="end" fill="#0a0a0a">-950</text>
<line x1="290.5" y1="634.5" x2="297.2" y2="634.5" stroke="#0a0a0a" stroke-width="1.3"/>
<line x1="290.5" y1="628.5" x2="297.2" y2="628.5" stroke="#0a0a0a" stroke-width="1.3"/>
<line x1="290.5" y1="623.5" x2="297.2" y2="623.5" stroke="#0a0a0a" stroke-width="1.3"/>
<line x1="290.5" y1="618.5" x2="297.2" y2="618.5" stroke="#0a0a0a" stroke-width="1.3"/>
<line x1="283.2" y1="613.5" x2="297.2" y2="613.5" stroke="#0a0a0a" stroke-width="1.3"/>
<text x="281.3" y="617.62" font-size="12.8" text-anchor="end" fill="#0a0a0a">-900</text>
<line x1="290.5" y1="607.5" x2="297.2" y2="607.5" stroke="#0a0a0a" stroke-width="1.3"/>
<line x1="290.5" y1="602.5" x2="297.2" y2="602.5" stroke="#0a0a0a" stroke-width="1.3"/>
<line x1="290.5" y1="597.5" x2="297.2" y2="597.5" stroke="#0a0a0a" stroke-width="1.3"/>
<line x1="290.5" y1="592.5" x2="297.2" y2="592.5" stroke="#0a0a0a" stroke-width="1.3"/>
<line x1="283.2" y1="586.5" x2="297.2" y2="586.5" stroke="#0a0a0a" stroke-width="1.3"/>
<text x="281.3" y="591.44" font-size="12.8" text-anchor="end" fill="#0a0a0a">-850</text>
<line x1="290.5" y1="581.5" x2="297.2" y2="581.5" stroke="#0a0a0a" stroke-width="1.3"/>
<line x1="290.5" y1="576.5" x2="297.2" y2="576.5" stroke="#0a0a0a" stroke-width="1.3"/>
<line x1="290.5" y1="571.5" x2="297.2" y2="571.5" stroke="#0a0a0a" stroke-width="1.3"/>
<line x1="290.5" y1="565.5" x2="297.2" y2="565.5" stroke="#0a0a0a" stroke-width="1.3"/>
<line x1="283.2" y1="560.5" x2="297.2" y2="560.5" stroke="#0a0a0a" stroke-width="1.3"/>
<text x="281.3" y="565.26" font-size="12.8" text-anchor="end" fill="#0a0a0a">-800</text>
<line x1="290.5" y1="555.5" x2="297.2" y2="555.5" stroke="#0a0a0a" stroke-width="1.3"/>
<line x1="290.5" y1="550.5" x2="297.2" y2="550.5" stroke="#0a0a0a" stroke-width="1.3"/>
<line x1="290.5" y1="545.5" x2="297.2" y2="545.5" stroke="#0a0a0a" stroke-width="1.3"/>
<line x1="290.5" y1="539.5" x2="297.2" y2="539.5" stroke="#0a0a0a" stroke-width="1.3"/>
<line x1="283.2" y1="534.5" x2="297.2" y2="534.5" stroke="#0a0a0a" stroke-width="1.3"/>
<text x="281.3" y="539.08" font-size="12.8" text-anchor="end" fill="#0a0a0a">-750</text>
<line x1="290.5" y1="529.5" x2="297.2" y2="529.5" stroke="#0a0a0a" stroke-width="1.3"/>
<line x1="290.5" y1="524.5" x2="297.2" y2="524.5" stroke="#0a0a0a" stroke-width="1.3"/>
<line x1="290.5" y1="518.5" x2="297.2" y2="518.5" stroke="#0a0a0a" stroke-width="1.3"/>
<line x1="290.5" y1="513.5" x2="297.2" y2="513.5" stroke="#0a0a0a" stroke-width="1.3"/>
<line x1="283.2" y1="508.5" x2="297.2" y2="508.5" stroke="#0a0a0a" stroke-width="1.3"/>
<text x="281.3" y="512.9" font-size="12.8" text-anchor="end" fill="#0a0a0a">-700</text>
<line x1="290.5" y1="503.5" x2="297.2" y2="503.5" stroke="#0a0a0a" stroke-width="1.3"/>
<line x1="290.5" y1="497.5" x2="297.2" y2="497.5" stroke="#0a0a0a" stroke-width="1.3"/>
<line x1="290.5" y1="492.5" x2="297.2" y2="492.5" stroke="#0a0a0a" stroke-width="1.3"/>
<line x1="290.5" y1="487.5" x2="297.2" y2="487.5" stroke="#0a0a0a" stroke-width="1.3"/>
<line x1="283.2" y1="482.5" x2="297.2" y2="482.5" stroke="#0a0a0a" stroke-width="1.3"/>
<text x="281.3" y="486.72" font-size="12.8" text-anchor="end" fill="#0a0a0a">-650</text>
<line x1="290.5" y1="476.5" x2="297.2" y2="476.5" stroke="#0a0a0a" stroke-width="1.3"/>
<line x1="290.5" y1="471.5" x2="297.2" y2="471.5" stroke="#0a0a0a" stroke-width="1.3"/>
<line x1="290.5" y1="466.5" x2="297.2" y2="466.5" stroke="#0a0a0a" stroke-width="1.3"/>
<line x1="290.5" y1="461.5" x2="297.2" y2="461.5" stroke="#0a0a0a" stroke-width="1.3"/>
<line x1="283.2" y1="456.5" x2="297.2" y2="456.5" stroke="#0a0a0a" stroke-width="1.3"/>
<text x="281.3" y="460.54" font-size="12.8" text-anchor="end" fill="#0a0a0a">-600</text>
<line x1="290.5" y1="450.5" x2="297.2" y2="450.5" stroke="#0a0a0a" stroke-width="1.3"/>
<line x1="290.5" y1="445.5" x2="297.2" y2="445.5" stroke="#0a0a0a" stroke-width="1.3"/>
<line x1="290.5" y1="440.5" x2="297.2" y2="440.5" stroke="#0a0a0a" stroke-width="1.3"/>
<line x1="290.5" y1="435.5" x2="297.2" y2="435.5" stroke="#0a0a0a" stroke-width="1.3"/>
<line x1="283.2" y1="429.5" x2="297.2" y2="429.5" stroke="#0a0a0a" stroke-width="1.3"/>
<text x="281.3" y="434.36" font-size="12.8" text-anchor="end" fill="#0a0a0a">-550</text>
<line x1="290.5" y1="424.5" x2="297.2" y2="424.5" stroke="#0a0a0a" stroke-width="1.3"/>
<line x1="290.5" y1="419.5" x2="297.2" y2="419.5" stroke="#0a0a0a" stroke-width="1.3"/>
<line x1="290.5" y1="414.5" x2="297.2" y2="414.5" stroke="#0a0a0a" stroke-width="1.3"/>
<line x1="290.5" y1="408.5" x2="297.2" y2="408.5" stroke="#0a0a0a" stroke-width="1.3"/>
<line x1="283.2" y1="403.5" x2="297.2" y2="403.5" stroke="#0a0a0a" stroke-width="1.3"/>
<text x="281.3" y="408.18" font-size="12.8" text-anchor="end" fill="#0a0a0a">-500</text>
<line x1="290.5" y1="398.5" x2="297.2" y2="398.5" stroke="#0a0a0a" stroke-width="1.3"/>
<line x1="290.5" y1="393.5" x2="297.2" y2="393.5" stroke="#0a0a0a" stroke-width="1.3"/>
<line x1="290.5" y1="387.5" x2="297.2" y2="387.5" stroke="#0a0a0a" stroke-width="1.3"/>
<line x1="290.5" y1="382.5" x2="297.2" y2="382.5" stroke="#0a0a0a" stroke-width="1.3"/>
<line x1="283.2" y1="377.5" x2="297.2" y2="377.5" stroke="#0a0a0a" stroke-width="1.3"/>
<text x="281.3" y="382" font-size="12.8" text-anchor="end" fill="#0a0a0a">-450</text>
<line x1="290.5" y1="372.5" x2="297.2" y2="372.5" stroke="#0a0a0a" stroke-width="1.3"/>
<line x1="290.5" y1="367.5" x2="297.2" y2="367.5" stroke="#0a0a0a" stroke-width="1.3"/>
<line x1="290.5" y1="361.5" x2="297.2" y2="361.5" stroke="#0a0a0a" stroke-width="1.3"/>
<text x="242.2" y="516.6" font-size="14.6" text-anchor="middle" textLength="144.8" lengthAdjust="spacingAndGlyphs" transform="rotate(-90 242.2 516.6)" fill="#0a0a0a">Reactive Power (kvar)</text>
<line x1="318.5" y1="674.1" x2="318.5" y2="692.9" stroke="#0a0a0a" stroke-width="1.3"/>
<line x1="440.5" y1="674.1" x2="440.5" y2="692.9" stroke="#0a0a0a" stroke-width="1.3"/>
<line x1="562.5" y1="674.1" x2="562.5" y2="692.9" stroke="#0a0a0a" stroke-width="1.3"/>
<line x1="684.5" y1="674.1" x2="684.5" y2="692.9" stroke="#0a0a0a" stroke-width="1.3"/>
<line x1="806.5" y1="674.1" x2="806.5" y2="692.9" stroke="#0a0a0a" stroke-width="1.3"/>
<line x1="928.5" y1="674.1" x2="928.5" y2="692.9" stroke="#0a0a0a" stroke-width="1.3"/>
<text x="318.5" y="703.6" font-size="12.8" text-anchor="middle" fill="#0a0a0a">-0.1</text>
<text x="230.8" y="738.6" font-size="12.8" textLength="87.4" lengthAdjust="spacingAndGlyphs" fill="#0a0a0a">Electrotek/EPRI</text>
<rect x="492" y="0" width="3.2" height="323.6" fill="#ff0000"/>
<rect x="324" y="323.7" width="703.6" height="469.2" fill="#fff" stroke="#000" stroke-width="1.6"/>
<text x="675.7" y="345.6" font-size="19.6" text-anchor="middle" textLength="411.4" lengthAdjust="spacingAndGlyphs" fill="#0a0a0a">Substation ION 7700 - 2/1/2003 09:02:54.1855</text>
<text x="675.7" y="364.4" font-size="12.8" text-anchor="middle" textLength="266" lengthAdjust="spacingAndGlyphs" fill="#0a0a0a">1 Cycle FFT Va from -0.01725 to -0.0008127 s</text>
<rect x="327.5" y="488.5" width="150" height="139.4" fill="#fff" stroke="#0a0a0a" stroke-width="1.1"/>
<text x="332.7" y="498.7" font-size="10.4" textLength="22.2" lengthAdjust="spacing" fill="#0a0a0a">RMS</text>
<text x="394.6" y="498.7" font-size="10.4" textLength="21.4" lengthAdjust="spacing" fill="#0a0a0a">104.9</text>
<text x="332.7" y="511.36" font-size="10.4" textLength="21.2" lengthAdjust="spacing" fill="#0a0a0a">Fund</text>
<text x="394.6" y="511.36" font-size="10.4" textLength="21.4" lengthAdjust="spacing" fill="#0a0a0a">104.4</text>
<text x="332.7" y="524.02" font-size="10.4" textLength="14.4" lengthAdjust="spacing" fill="#0a0a0a">DC</text>
<text x="394.6" y="524.02" font-size="10.4" textLength="31.6" lengthAdjust="spacing" fill="#0a0a0a">0.04575</text>
<text x="332.7" y="536.68" font-size="10.4" textLength="18.2" lengthAdjust="spacing" fill="#0a0a0a">Max</text>
<text x="394.6" y="536.68" font-size="10.4" textLength="14.2" lengthAdjust="spacing" fill="#0a0a0a">108</text>
<text x="332.7" y="549.34" font-size="10.4" textLength="16.4" lengthAdjust="spacing" fill="#0a0a0a">Min</text>
<text x="393.9" y="549.34" font-size="10.4" textLength="26" lengthAdjust="spacing" fill="#0a0a0a">-113.6</text>
<text x="332.7" y="562" font-size="10.4" textLength="13.2" lengthAdjust="spacing" fill="#0a0a0a">CF</text>
<text x="394.6" y="562" font-size="10.4" textLength="21.4" lengthAdjust="spacing" fill="#0a0a0a">1.532</text>
<text x="332.7" y="574.66" font-size="10.4" textLength="11.8" lengthAdjust="spacing" fill="#0a0a0a">FF</text>
<text x="394.6" y="574.66" font-size="10.4" textLength="21.4" lengthAdjust="spacing" fill="#0a0a0a">1.110</text>
<text x="332.7" y="587.32" font-size="10.4" textLength="44.6" lengthAdjust="spacing" fill="#0a0a0a">THD Fund</text>
<text x="394.6" y="587.32" font-size="10.4" textLength="25.7" lengthAdjust="spacing" fill="#0a0a0a">9.73%</text>
<text x="332.7" y="599.98" font-size="10.4" textLength="45.6" lengthAdjust="spacing" fill="#0a0a0a">THD RMS</text>
<text x="394.6" y="599.98" font-size="10.4" textLength="25.7" lengthAdjust="spacing" fill="#0a0a0a">9.68%</text>
<text x="332.7" y="612.64" font-size="10.4" textLength="29.4" lengthAdjust="spacing" fill="#0a0a0a">HRMS</text>
<text x="394.6" y="612.64" font-size="10.4" textLength="21.4" lengthAdjust="spacing" fill="#0a0a0a">10.16</text>
<text x="332.7" y="625.3" font-size="10.4" textLength="50.2" lengthAdjust="spacing" fill="#0a0a0a">Phase Jump</text>
<text x="394.6" y="625.3" font-size="10.4" textLength="24.6" lengthAdjust="spacing" fill="#0a0a0a">2.380°</text>
<text x="328.3" y="785.7" font-size="12.8" textLength="87.4" lengthAdjust="spacingAndGlyphs" fill="#0a0a0a">Electrotek/EPRI</text>
<rect x="426" y="358.4" width="703.5" height="469.1" fill="#fff" stroke="#000" stroke-width="1.6"/>
<text x="778.2" y="380.4" font-size="19.6" text-anchor="middle" textLength="411.6" lengthAdjust="spacingAndGlyphs" fill="#0a0a0a">Substation ION 7700 - 2/1/2003 09:02:54.1855</text>
<text x="778.3" y="399" font-size="12.8" text-anchor="middle" textLength="144.6" lengthAdjust="spacingAndGlyphs" fill="#0a0a0a">Total Harmonic Distortion</text>
<rect x="503.6" y="410.1" width="36.6" height="3.8" fill="#ff0000" stroke="#2a0a0a" stroke-width="0.8"/>
<text x="522.5" y="430.6" font-size="12.8" text-anchor="middle" fill="#0a0a0a">Va</text>
<rect x="608.2" y="410.1" width="36.6" height="3.8" fill="#008000" stroke="#2a0a0a" stroke-width="0.8"/>
<text x="627.1" y="430.6" font-size="12.8" text-anchor="middle" fill="#0a0a0a">Vb</text>
<rect x="712.8" y="410.1" width="36.6" height="3.8" fill="#0000ff" stroke="#2a0a0a" stroke-width="0.8"/>
<text x="731.7" y="430.6" font-size="12.8" text-anchor="middle" fill="#0a0a0a">Vc</text>
<rect x="817.4" y="410.1" width="36.6" height="3.8" fill="#ff0000" stroke="#2a0a0a" stroke-width="0.8"/>
<text x="836.3" y="430.6" font-size="12.8" text-anchor="middle" fill="#0a0a0a">Ia</text>
<rect x="922" y="410.1" width="36.6" height="3.8" fill="#008000" stroke="#2a0a0a" stroke-width="0.8"/>
<text x="940.9" y="430.6" font-size="12.8" text-anchor="middle" fill="#0a0a0a">Ib</text>
<rect x="1026.6" y="410.1" width="36.6" height="3.8" fill="#0000ff" stroke="#2a0a0a" stroke-width="0.8"/>
<text x="1045.5" y="430.6" font-size="12.8" text-anchor="middle" fill="#0a0a0a">Ic</text>
<line x1="469.6" y1="436.5" x2="1097.2" y2="436.5" stroke="#0a0a0a" stroke-width="1.3"/>
<line x1="469.6" y1="600.5" x2="1097.2" y2="600.5" stroke="#0a0a0a" stroke-width="1.3"/>
<line x1="469.6" y1="764.5" x2="1097.2" y2="764.5" stroke="#0a0a0a" stroke-width="1.3"/>
<line x1="469.5" y1="435.75" x2="469.5" y2="764.85" stroke="#0a0a0a" stroke-width="1.3"/>
<line x1="1097.5" y1="435.75" x2="1097.5" y2="764.85" stroke="#0a0a0a" stroke-width="1.3"/>
<line x1="462.3" y1="600.5" x2="476.3" y2="600.5" stroke="#0a0a0a" stroke-width="1.3"/>
<text x="461.6" y="604.5" font-size="12.8" text-anchor="end" fill="#0a0a0a">0</text>
<line x1="469.6" y1="591.5" x2="476.3" y2="591.5" stroke="#0a0a0a" stroke-width="1.3"/>
<line x1="469.6" y1="583.5" x2="476.3" y2="583.5" stroke="#0a0a0a" stroke-width="1.3"/>
<line x1="469.6" y1="575.5" x2="476.3" y2="575.5" stroke="#0a0a0a" stroke-width="1.3"/>
<line x1="462.3" y1="567.5" x2="476.3" y2="567.5" stroke="#0a0a0a" stroke-width="1.3"/>
<text x="461.6" y="572.36" font-size="12.8" text-anchor="end" fill="#0a0a0a">2</text>
<line x1="469.6" y1="559.5" x2="476.3" y2="559.5" stroke="#0a0a0a" stroke-width="1.3"/>
<line x1="469.6" y1="551.5" x2="476.3" y2="551.5" stroke="#0a0a0a" stroke-width="1.3"/>
<line x1="469.6" y1="543.5" x2="476.3" y2="543.5" stroke="#0a0a0a" stroke-width="1.3"/>
<line x1="462.3" y1="535.5" x2="476.3" y2="535.5" stroke="#0a0a0a" stroke-width="1.3"/>
<text x="461.6" y="540.22" font-size="12.8" text-anchor="end" fill="#0a0a0a">4</text>
<line x1="469.6" y1="527.5" x2="476.3" y2="527.5" stroke="#0a0a0a" stroke-width="1.3"/>
<line x1="469.6" y1="519.5" x2="476.3" y2="519.5" stroke="#0a0a0a" stroke-width="1.3"/>
<line x1="469.6" y1="511.5" x2="476.3" y2="511.5" stroke="#0a0a0a" stroke-width="1.3"/>
<line x1="462.3" y1="503.5" x2="476.3" y2="503.5" stroke="#0a0a0a" stroke-width="1.3"/>
<text x="461.6" y="508.08" font-size="12.8" text-anchor="end" fill="#0a0a0a">6</text>
<line x1="469.6" y1="495.5" x2="476.3" y2="495.5" stroke="#0a0a0a" stroke-width="1.3"/>
<line x1="469.6" y1="487.5" x2="476.3" y2="487.5" stroke="#0a0a0a" stroke-width="1.3"/>
<line x1="469.6" y1="479.5" x2="476.3" y2="479.5" stroke="#0a0a0a" stroke-width="1.3"/>
<line x1="462.3" y1="471.5" x2="476.3" y2="471.5" stroke="#0a0a0a" stroke-width="1.3"/>
<text x="461.6" y="475.94" font-size="12.8" text-anchor="end" fill="#0a0a0a">8</text>
<line x1="469.6" y1="463.5" x2="476.3" y2="463.5" stroke="#0a0a0a" stroke-width="1.3"/>
<line x1="469.6" y1="455.5" x2="476.3" y2="455.5" stroke="#0a0a0a" stroke-width="1.3"/>
<line x1="469.6" y1="447.5" x2="476.3" y2="447.5" stroke="#0a0a0a" stroke-width="1.3"/>
<line x1="462.3" y1="439.5" x2="476.3" y2="439.5" stroke="#0a0a0a" stroke-width="1.3"/>
<text x="461.6" y="443.8" font-size="12.8" text-anchor="end" fill="#0a0a0a">10</text>
<line x1="469.6" y1="757.5" x2="476.3" y2="757.5" stroke="#0a0a0a" stroke-width="1.3"/>
<line x1="469.6" y1="752.5" x2="476.3" y2="752.5" stroke="#0a0a0a" stroke-width="1.3"/>
<line x1="469.6" y1="746.5" x2="476.3" y2="746.5" stroke="#0a0a0a" stroke-width="1.3"/>
<line x1="469.6" y1="741.5" x2="476.3" y2="741.5" stroke="#0a0a0a" stroke-width="1.3"/>
<line x1="462.3" y1="735.5" x2="476.3" y2="735.5" stroke="#0a0a0a" stroke-width="1.3"/>
<text x="461.6" y="739.9" font-size="12.8" text-anchor="end" fill="#0a0a0a">5</text>
<line x1="469.6" y1="729.5" x2="476.3" y2="729.5" stroke="#0a0a0a" stroke-width="1.3"/>
<line x1="469.6" y1="724.5" x2="476.3" y2="724.5" stroke="#0a0a0a" stroke-width="1.3"/>
<line x1="469.6" y1="718.5" x2="476.3" y2="718.5" stroke="#0a0a0a" stroke-width="1.3"/>
<line x1="469.6" y1="712.5" x2="476.3" y2="712.5" stroke="#0a0a0a" stroke-width="1.3"/>
<line x1="462.3" y1="707.5" x2="476.3" y2="707.5" stroke="#0a0a0a" stroke-width="1.3"/>
<text x="461.6" y="711.77" font-size="12.8" text-anchor="end" fill="#0a0a0a">10</text>
<line x1="469.6" y1="701.5" x2="476.3" y2="701.5" stroke="#0a0a0a" stroke-width="1.3"/>
<line x1="469.6" y1="696.5" x2="476.3" y2="696.5" stroke="#0a0a0a" stroke-width="1.3"/>
<line x1="469.6" y1="690.5" x2="476.3" y2="690.5" stroke="#0a0a0a" stroke-width="1.3"/>
<line x1="469.6" y1="684.5" x2="476.3" y2="684.5" stroke="#0a0a0a" stroke-width="1.3"/>
<line x1="462.3" y1="679.5" x2="476.3" y2="679.5" stroke="#0a0a0a" stroke-width="1.3"/>
<text x="461.6" y="683.65" font-size="12.8" text-anchor="end" fill="#0a0a0a">15</text>
<line x1="469.6" y1="673.5" x2="476.3" y2="673.5" stroke="#0a0a0a" stroke-width="1.3"/>
<line x1="469.6" y1="667.5" x2="476.3" y2="667.5" stroke="#0a0a0a" stroke-width="1.3"/>
<line x1="469.6" y1="662.5" x2="476.3" y2="662.5" stroke="#0a0a0a" stroke-width="1.3"/>
<line x1="469.6" y1="656.5" x2="476.3" y2="656.5" stroke="#0a0a0a" stroke-width="1.3"/>
<line x1="462.3" y1="651.5" x2="476.3" y2="651.5" stroke="#0a0a0a" stroke-width="1.3"/>
<text x="461.6" y="655.52" font-size="12.8" text-anchor="end" fill="#0a0a0a">20</text>
<line x1="469.6" y1="645.5" x2="476.3" y2="645.5" stroke="#0a0a0a" stroke-width="1.3"/>
<line x1="469.6" y1="639.5" x2="476.3" y2="639.5" stroke="#0a0a0a" stroke-width="1.3"/>
<line x1="469.6" y1="634.5" x2="476.3" y2="634.5" stroke="#0a0a0a" stroke-width="1.3"/>
<line x1="469.6" y1="628.5" x2="476.3" y2="628.5" stroke="#0a0a0a" stroke-width="1.3"/>
<line x1="462.3" y1="622.5" x2="476.3" y2="622.5" stroke="#0a0a0a" stroke-width="1.3"/>
<text x="461.6" y="627.4" font-size="12.8" text-anchor="end" fill="#0a0a0a">25</text>
<line x1="469.6" y1="617.5" x2="476.3" y2="617.5" stroke="#0a0a0a" stroke-width="1.3"/>
<line x1="469.6" y1="611.5" x2="476.3" y2="611.5" stroke="#0a0a0a" stroke-width="1.3"/>
<line x1="469.6" y1="606.5" x2="476.3" y2="606.5" stroke="#0a0a0a" stroke-width="1.3"/>
<text x="441.6" y="517" font-size="14.6" text-anchor="middle" textLength="60.8" lengthAdjust="spacingAndGlyphs" transform="rotate(-90 441.6 517)" fill="#0a0a0a" xml:space="preserve">THD  (%)</text>
<text x="441.6" y="681.3" font-size="14.6" text-anchor="middle" textLength="60.8" lengthAdjust="spacingAndGlyphs" transform="rotate(-90 441.6 681.3)" fill="#0a0a0a" xml:space="preserve">THD  (%)</text>
<line x1="474.5" y1="756" x2="474.5" y2="764.2" stroke="#0a0a0a" stroke-width="1.3"/>
<line x1="486.5" y1="756" x2="486.5" y2="764.2" stroke="#0a0a0a" stroke-width="1.3"/>
<line x1="498.5" y1="756" x2="498.5" y2="773.6" stroke="#0a0a0a" stroke-width="1.3"/>
<text x="498.4" y="784.6" font-size="12.8" text-anchor="middle" fill="#0a0a0a">-0.10</text>
<line x1="510.5" y1="756" x2="510.5" y2="764.2" stroke="#0a0a0a" stroke-width="1.3"/>
<line x1="522.5" y1="756" x2="522.5" y2="764.2" stroke="#0a0a0a" stroke-width="1.3"/>
<line x1="535.5" y1="756" x2="535.5" y2="764.2" stroke="#0a0a0a" stroke-width="1.3"/>
<line x1="547.5" y1="756" x2="547.5" y2="764.2" stroke="#0a0a0a" stroke-width="1.3"/>
<line x1="559.5" y1="756" x2="559.5" y2="773.6" stroke="#0a0a0a" stroke-width="1.3"/>
<text x="559.4" y="784.6" font-size="12.8" text-anchor="middle" fill="#0a0a0a">-0.05</text>
<line x1="571.5" y1="756" x2="571.5" y2="764.2" stroke="#0a0a0a" stroke-width="1.3"/>
<line x1="583.5" y1="756" x2="583.5" y2="764.2" stroke="#0a0a0a" stroke-width="1.3"/>
<line x1="596.5" y1="756" x2="596.5" y2="764.2" stroke="#0a0a0a" stroke-width="1.3"/>
<line x1="608.5" y1="756" x2="608.5" y2="764.2" stroke="#0a0a0a" stroke-width="1.3"/>
<line x1="620.5" y1="756" x2="620.5" y2="773.6" stroke="#0a0a0a" stroke-width="1.3"/>
<text x="620.4" y="784.6" font-size="12.8" text-anchor="middle" fill="#0a0a0a">0</text>
<line x1="632.5" y1="756" x2="632.5" y2="764.2" stroke="#0a0a0a" stroke-width="1.3"/>
<line x1="644.5" y1="756" x2="644.5" y2="764.2" stroke="#0a0a0a" stroke-width="1.3"/>
<line x1="657.5" y1="756" x2="657.5" y2="764.2" stroke="#0a0a0a" stroke-width="1.3"/>
<line x1="669.5" y1="756" x2="669.5" y2="764.2" stroke="#0a0a0a" stroke-width="1.3"/>
<line x1="681.5" y1="756" x2="681.5" y2="773.6" stroke="#0a0a0a" stroke-width="1.3"/>
<text x="681.4" y="784.6" font-size="12.8" text-anchor="middle" fill="#0a0a0a">0.05</text>
<line x1="693.5" y1="756" x2="693.5" y2="764.2" stroke="#0a0a0a" stroke-width="1.3"/>
<line x1="705.5" y1="756" x2="705.5" y2="764.2" stroke="#0a0a0a" stroke-width="1.3"/>
<line x1="718.5" y1="756" x2="718.5" y2="764.2" stroke="#0a0a0a" stroke-width="1.3"/>
<line x1="730.5" y1="756" x2="730.5" y2="764.2" stroke="#0a0a0a" stroke-width="1.3"/>
<line x1="742.5" y1="756" x2="742.5" y2="773.6" stroke="#0a0a0a" stroke-width="1.3"/>
<text x="742.4" y="784.6" font-size="12.8" text-anchor="middle" fill="#0a0a0a">0.10</text>
<line x1="754.5" y1="756" x2="754.5" y2="764.2" stroke="#0a0a0a" stroke-width="1.3"/>
<line x1="766.5" y1="756" x2="766.5" y2="764.2" stroke="#0a0a0a" stroke-width="1.3"/>
<line x1="779.5" y1="756" x2="779.5" y2="764.2" stroke="#0a0a0a" stroke-width="1.3"/>
<line x1="791.5" y1="756" x2="791.5" y2="764.2" stroke="#0a0a0a" stroke-width="1.3"/>
<line x1="803.5" y1="756" x2="803.5" y2="773.6" stroke="#0a0a0a" stroke-width="1.3"/>
<text x="803.4" y="784.6" font-size="12.8" text-anchor="middle" fill="#0a0a0a">0.15</text>
<line x1="815.5" y1="756" x2="815.5" y2="764.2" stroke="#0a0a0a" stroke-width="1.3"/>
<line x1="827.5" y1="756" x2="827.5" y2="764.2" stroke="#0a0a0a" stroke-width="1.3"/>
<line x1="840.5" y1="756" x2="840.5" y2="764.2" stroke="#0a0a0a" stroke-width="1.3"/>
<line x1="852.5" y1="756" x2="852.5" y2="764.2" stroke="#0a0a0a" stroke-width="1.3"/>
<line x1="864.5" y1="756" x2="864.5" y2="773.6" stroke="#0a0a0a" stroke-width="1.3"/>
<text x="864.4" y="784.6" font-size="12.8" text-anchor="middle" fill="#0a0a0a">0.20</text>
<line x1="876.5" y1="756" x2="876.5" y2="764.2" stroke="#0a0a0a" stroke-width="1.3"/>
<line x1="888.5" y1="756" x2="888.5" y2="764.2" stroke="#0a0a0a" stroke-width="1.3"/>
<line x1="901.5" y1="756" x2="901.5" y2="764.2" stroke="#0a0a0a" stroke-width="1.3"/>
<line x1="913.5" y1="756" x2="913.5" y2="764.2" stroke="#0a0a0a" stroke-width="1.3"/>
<line x1="925.5" y1="756" x2="925.5" y2="773.6" stroke="#0a0a0a" stroke-width="1.3"/>
<text x="925.4" y="784.6" font-size="12.8" text-anchor="middle" fill="#0a0a0a">0.25</text>
<line x1="937.5" y1="756" x2="937.5" y2="764.2" stroke="#0a0a0a" stroke-width="1.3"/>
<line x1="949.5" y1="756" x2="949.5" y2="764.2" stroke="#0a0a0a" stroke-width="1.3"/>
<line x1="962.5" y1="756" x2="962.5" y2="764.2" stroke="#0a0a0a" stroke-width="1.3"/>
<line x1="974.5" y1="756" x2="974.5" y2="764.2" stroke="#0a0a0a" stroke-width="1.3"/>
<line x1="986.5" y1="756" x2="986.5" y2="773.6" stroke="#0a0a0a" stroke-width="1.3"/>
<text x="986.4" y="784.6" font-size="12.8" text-anchor="middle" fill="#0a0a0a">0.30</text>
<line x1="998.5" y1="756" x2="998.5" y2="764.2" stroke="#0a0a0a" stroke-width="1.3"/>
<line x1="1010.5" y1="756" x2="1010.5" y2="764.2" stroke="#0a0a0a" stroke-width="1.3"/>
<line x1="1023.5" y1="756" x2="1023.5" y2="764.2" stroke="#0a0a0a" stroke-width="1.3"/>
<line x1="1035.5" y1="756" x2="1035.5" y2="764.2" stroke="#0a0a0a" stroke-width="1.3"/>
<line x1="1047.5" y1="756" x2="1047.5" y2="773.6" stroke="#0a0a0a" stroke-width="1.3"/>
<text x="1047.4" y="784.6" font-size="12.8" text-anchor="middle" fill="#0a0a0a">0.35</text>
<line x1="1059.5" y1="756" x2="1059.5" y2="764.2" stroke="#0a0a0a" stroke-width="1.3"/>
<line x1="1071.5" y1="756" x2="1071.5" y2="764.2" stroke="#0a0a0a" stroke-width="1.3"/>
<line x1="1084.5" y1="756" x2="1084.5" y2="764.2" stroke="#0a0a0a" stroke-width="1.3"/>
<line x1="1096.5" y1="756" x2="1096.5" y2="764.2" stroke="#0a0a0a" stroke-width="1.3"/>
<text x="783.5" y="800.6" font-size="12.8" text-anchor="middle" fill="#0a0a0a">Time (s)</text>
<text x="430.2" y="820.6" font-size="12.8" textLength="87.4" lengthAdjust="spacingAndGlyphs" fill="#0a0a0a">Electrotek/EPRI</text>
<text x="1126.2" y="820.6" font-size="12.8" text-anchor="end" textLength="55.2" lengthAdjust="spacingAndGlyphs" fill="#0a0a0a">PQView®</text>
<polyline points="508.4,590.3 508.4,590.3 509.7,589.92 510.6,589.92 511.6,590.3 518.5,590.3 519.8,589.92 520.7,589.92 521.7,590.3 528.6,590.3 529.9,590.12 530.8,590.12 531.8,590.3 538.7,590.3 540,589.92 540.9,589.92 541.9,590.3 548.8,590.3 550.1,589.92 551,589.92 552,590.3 558.9,590.3 560.2,590.12 561.1,590.12 562.1,590.3 569,590.3 570.3,589.92 571.2,589.92 572.2,590.3 579.1,590.3 580.4,589.92 581.3,589.92 582.3,590.3 589.2,590.3 590.5,590.12 591.4,590.12 592.4,590.3 594.8,590.3 595.2,590 597.5,545 600.5,480 602.7,449 604.5,445.5 608,444.4 612,444.2 615,443.6 617.6,444.4 618.6,470 621,522.6 624.2,564.7 627,580 630.5,589 634,592 636.8,593 639,593 639,593 640.3,592.55 641.2,592.55 642.2,593 649.1,593 650.4,592.55 651.3,592.55 652.3,593 659.2,593 660.5,592.79 661.4,592.79 662.4,593 670,593 670.5,593 671.6,556 673.7,544.7 676.8,539.5 680,537.4 683.2,536 689.5,535.3 691.2,537 692.6,556 694.5,566 696.8,573 700,580 703,584.7 706,588.5 708.4,591 711,591.5 711,591.5 712.3,590.98 713.2,590.98 714.2,591.5 721.1,591.5 722.4,590.98 723.3,590.98 724.3,591.5 731.2,591.5 732.5,591.25 733.4,591.25 734.4,591.5 741.3,591.5 742.6,590.98 743.5,590.98 744.5,591.5 751.4,591.5 752.7,590.98 753.6,590.98 754.6,591.5 761.5,591.5 762.8,591.25 763.7,591.25 764.7,591.5 771,591.5 771.8,591 772.8,540 774.2,462 775.5,446 777,470 780,539 783,480 785.4,446 787.5,480 790.6,537 792.5,500 793.6,487 794.6,520 795.7,591.5 797,591.6 797,591.6 798.3,591.15 799.2,591.15 800.2,591.6 807.1,591.6 808.4,591.15 809.3,591.15 810.3,591.6 817.2,591.6 818.5,591.39 819.4,591.39 820.4,591.6 827.3,591.6 828.6,591.15 829.5,591.15 830.5,591.6 837.4,591.6 838.7,591.15 839.6,591.15 840.6,591.6 847.5,591.6 848.8,591.39 849.7,591.39 850.7,591.6 857.6,591.6 858.9,591.15 859.8,591.15 860.8,591.6 867.7,591.6 869,591.15 869.9,591.15 870.9,591.6 877.8,591.6 879.1,591.39 880,591.39 881,591.6 887.9,591.6 889.2,591.15 890.1,591.15 891.1,591.6 898,591.6 899.3,591.15 900.2,591.15 901.2,591.6 908.1,591.6 909.4,591.39 910.3,591.39 911.3,591.6 918.2,591.6 919.5,591.15 920.4,591.15 921.4,591.6 928.3,591.6 929.6,591.15 930.5,591.15 931.5,591.6 938.4,591.6 939.7,591.39 940.6,591.39 941.6,591.6 948.5,591.6 949.8,591.15 950.7,591.15 951.7,591.6 958.6,591.6 959.9,591.15 960.8,591.15 961.8,591.6 968.7,591.6 970,591.39 970.9,591.39 971.9,591.6 978.8,591.6 980.1,591.15 981,591.15 982,591.6 988.9,591.6 990.2,591.15 991.1,591.15 992.1,591.6 999,591.6 1000.3,591.39 1001.2,591.39 1002.2,591.6 1009.1,591.6 1010.4,591.15 1011.3,591.15 1012.3,591.6 1019.2,591.6 1020.5,591.15 1021.4,591.15 1022.4,591.6 1029.3,591.6 1030.6,591.39 1031.5,591.39 1032.5,591.6 1039.4,591.6 1040.7,591.15 1041.6,591.15 1042.6,591.6 1049.5,591.6 1050.8,591.15 1051.7,591.15 1052.7,591.6 1056,591.6" fill="none" stroke="#ff0000" stroke-width="1.0" stroke-linejoin="round"/>
<polyline points="508.4,590.8 511.4,590.8 512.7,590.42 513.6,590.42 514.6,590.8 521.5,590.8 522.8,590.42 523.7,590.42 524.7,590.8 531.6,590.8 532.9,590.62 533.8,590.62 534.8,590.8 541.7,590.8 543,590.42 543.9,590.42 544.9,590.8 551.8,590.8 553.1,590.42 554,590.42 555,590.8 561.9,590.8 563.2,590.62 564.1,590.62 565.1,590.8 572,590.8 573.3,590.42 574.2,590.42 575.2,590.8 582.1,590.8 583.4,590.42 584.3,590.42 585.3,590.8 592.2,590.8 593.5,590.62 594.4,590.62 595.4,590.8 596.8,590.8 597.3,590.5 598.6,575 600,554 603,537 606.3,528 610.5,523.7 614,523.2 617.9,523.3 619.5,531 621,539.5 624.2,564.7 628.4,583.7 631.6,590 635,591.5 639,592.5 641,592.6 647,592.6 648.3,592.15 649.2,592.15 650.2,592.6 657.1,592.6 658.4,592.15 659.3,592.15 660.3,592.6 670,592.6 670.6,592.5 671.6,554 673.7,531 676.4,524.3 680,522.8 683.2,522.2 687.4,523.7 691,526.4 692.6,556.3 695.8,575.3 700,586.8 706.3,591.7 708,592.2 711,592.2 712.3,591.68 713.2,591.68 714.2,592.2 721.1,592.2 722.4,591.68 723.3,591.68 724.3,592.2 731.2,592.2 732.5,591.96 733.4,591.96 734.4,592.2 741.3,592.2 742.6,591.68 743.5,591.68 744.5,592.2 751.4,592.2 752.7,591.68 753.6,591.68 754.6,592.2 761.5,592.2 762.8,591.96 763.7,591.96 764.7,592.2 771.5,592.2 772.6,591.5 773.4,540 774.2,480 775.5,505 777.4,539 779.5,490 781.6,447 783.5,480 785.8,517 788,490 791,462 793.2,448 794.4,500 795.4,560 795.9,591.4 797,591.9 803,591.9 804.3,591.45 805.2,591.45 806.2,591.9 813.1,591.9 814.4,591.45 815.3,591.45 816.3,591.9 823.2,591.9 824.5,591.69 825.4,591.69 826.4,591.9 833.3,591.9 834.6,591.45 835.5,591.45 836.5,591.9 843.4,591.9 844.7,591.45 845.6,591.45 846.6,591.9 853.5,591.9 854.8,591.69 855.7,591.69 856.7,591.9 863.6,591.9 864.9,591.45 865.8,591.45 866.8,591.9 873.7,591.9 875,591.45 875.9,591.45 876.9,591.9 883.8,591.9 885.1,591.69 886,591.69 887,591.9 893.9,591.9 895.2,591.45 896.1,591.45 897.1,591.9 904,591.9 905.3,591.45 906.2,591.45 907.2,591.9 914.1,591.9 915.4,591.69 916.3,591.69 917.3,591.9 924.2,591.9 925.5,591.45 926.4,591.45 927.4,591.9 934.3,591.9 935.6,591.45 936.5,591.45 937.5,591.9 944.4,591.9 945.7,591.69 946.6,591.69 947.6,591.9 954.5,591.9 955.8,591.45 956.7,591.45 957.7,591.9 964.6,591.9 965.9,591.45 966.8,591.45 967.8,591.9 974.7,591.9 976,591.69 976.9,591.69 977.9,591.9 984.8,591.9 986.1,591.45 987,591.45 988,591.9 994.9,591.9 996.2,591.45 997.1,591.45 998.1,591.9 1005,591.9 1006.3,591.69 1007.2,591.69 1008.2,591.9 1015.1,591.9 1016.4,591.45 1017.3,591.45 1018.3,591.9 1025.2,591.9 1026.5,591.45 1027.4,591.45 1028.4,591.9 1035.3,591.9 1036.6,591.69 1037.5,591.69 1038.5,591.9 1045.4,591.9 1046.7,591.45 1047.6,591.45 1048.6,591.9 1056,591.9" fill="none" stroke="#008000" stroke-width="1.0" stroke-linejoin="round"/>
<polyline points="508.4,586.8 509.9,586.8 511.2,585.75 512.1,585.75 513.1,586.8 520,586.8 521.3,585.75 522.2,585.75 523.2,586.8 524.6,587.32 526,586.8 530.1,586.8 531.4,586.31 532.3,586.31 533.3,586.8 540.2,586.8 541.5,585.75 542.4,585.75 543.4,586.8 544.8,587.32 546.2,586.8 550.3,586.8 551.6,585.75 552.5,585.75 553.5,586.8 560.4,586.8 561.7,586.31 562.6,586.31 563.6,586.8 565,587.04 566.4,586.8 570.5,586.8 571.8,585.75 572.7,585.75 573.7,586.8 580.6,586.8 581.9,585.75 582.8,585.75 583.8,586.8 585.2,587.32 586.6,586.8 590.7,586.8 592,586.31 592.9,586.31 593.9,586.8 597,586.8 597.9,586.5 599,570 600,552 602.5,540 605.3,530 608.4,526.4 613,525.2 617.9,524.3 620,533 622,544 624.2,556.3 627,569 629.5,580.5 634.7,583.7 640,586.8 642,586.4 645.6,586.4 646.9,585.35 647.8,585.35 648.8,586.4 655.7,586.4 657,585.35 657.9,585.35 658.9,586.4 660.3,586.92 661.7,586.4 665.8,586.4 667.1,585.91 668,585.91 669,586.4 669.5,586.4 670.5,586 671.2,518.4 673.7,507.9 676.8,494.2 679,492.4 681,491.7 689.5,491.7 690.5,520.5 693.7,548 697.9,575.3 703.2,585.8 710.5,590 713,590.2 713.9,590.2 715.2,589 716.1,589 717.1,590.2 724,590.2 725.3,589 726.2,589 727.2,590.2 728.6,590.8 730,590.2 734.1,590.2 735.4,589.64 736.3,589.64 737.3,590.2 744.2,590.2 745.5,589 746.4,589 747.4,590.2 748.8,590.8 750.2,590.2 754.3,590.2 755.6,589 756.5,589 757.5,590.2 764.4,590.2 765.7,589.64 766.6,589.64 767.6,590.2 769,590.48 770.4,590.2 771,590.2 771.9,589.5 773.5,540 776,480 778.4,446 780.5,480 784.3,534 786.5,485 788.5,446 790.5,462 792.5,500 795.5,548 799.5,588 801,589.8 807.6,589.8 808.9,588.45 809.8,588.45 810.8,589.8 817.7,589.8 819,588.45 819.9,588.45 820.9,589.8 822.3,590.47 823.7,589.8 827.8,589.8 829.1,589.17 830,589.17 831,589.8 837.9,589.8 839.2,588.45 840.1,588.45 841.1,589.8 842.5,590.47 843.9,589.8 848,589.8 849.3,588.45 850.2,588.45 851.2,589.8 858.1,589.8 859.4,589.17 860.3,589.17 861.3,589.8 862.7,590.12 864.1,589.8 868.2,589.8 869.5,588.45 870.4,588.45 871.4,589.8 878.3,589.8 879.6,588.45 880.5,588.45 881.5,589.8 882.9,590.47 884.3,589.8 888.4,589.8 889.7,589.17 890.6,589.17 891.6,589.8 898.5,589.8 899.8,588.45 900.7,588.45 901.7,589.8 903.1,590.47 904.5,589.8 908.6,589.8 909.9,588.45 910.8,588.45 911.8,589.8 918.7,589.8 920,589.17 920.9,589.17 921.9,589.8 923.3,590.12 924.7,589.8 928.8,589.8 930.1,588.45 931,588.45 932,589.8 938.9,589.8 940.2,588.45 941.1,588.45 942.1,589.8 943.5,590.47 944.9,589.8 949,589.8 950.3,589.17 951.2,589.17 952.2,589.8 959.1,589.8 960.4,588.45 961.3,588.45 962.3,589.8 963.7,590.47 965.1,589.8 969.2,589.8 970.5,588.45 971.4,588.45 972.4,589.8 979.3,589.8 980.6,589.17 981.5,589.17 982.5,589.8 983.9,590.12 985.3,589.8 989.4,589.8 990.7,588.45 991.6,588.45 992.6,589.8 999.5,589.8 1000.8,588.45 1001.7,588.45 1002.7,589.8 1004.1,590.47 1005.5,589.8 1009.6,589.8 1010.9,589.17 1011.8,589.17 1012.8,589.8 1019.7,589.8 1021,588.45 1021.9,588.45 1022.9,589.8 1024.3,590.47 1025.7,589.8 1029.8,589.8 1031.1,588.45 1032,588.45 1033,589.8 1039.9,589.8 1041.2,589.17 1042.1,589.17 1043.1,589.8 1044.5,590.12 1045.9,589.8 1050,589.8 1051.3,588.45 1052.2,588.45 1053.2,589.8 1056,589.8" fill="none" stroke="#0000ff" stroke-width="1.0" stroke-linejoin="round"/>
<polyline points="508.4,751 508.4,751 509.7,750.7 510.6,750.7 511.6,751 518.5,751 519.8,750.7 520.7,750.7 521.7,751 528.6,751 529.9,750.86 530.8,750.86 531.8,751 538.7,751 540,750.7 540.9,750.7 541.9,751 548.8,751 550.1,750.7 551,750.7 552,751 558.9,751 560.2,750.86 561.1,750.86 562.1,751 569,751 570.3,750.7 571.2,750.7 572.2,751 579.1,751 580.4,750.7 581.3,750.7 582.3,751 589.2,751 590.5,750.86 591.4,750.86 592.4,751 593.8,751 594.3,750.2 596,720 598.5,670 601,622.4 602.7,608 604.2,607.6 605.6,609.5 607,611.8 609,610 611.2,608.3 612.8,610.5 614.1,614 616.5,645 619,675 621,699 623.2,721.3 626.3,745.5 631.6,749.7 636,751.4 641,752.5 643,752.1 643,752.1 644.3,751.73 645.2,751.73 646.2,752.1 653.1,752.1 654.4,751.73 655.3,751.73 656.3,752.1 663.2,752.1 664.5,751.93 665.4,751.93 666.4,752.1 669,752.1 669.5,752 671,738 672.6,725.5 674.7,721.3 682,715.8 689.5,710.4 691,714 692.6,721.3 695.8,730.8 700,735 705.3,740.3 707.5,747 709.5,751.8 716,751.2 723,750.8 725,751.3 725,751.3 726.3,750.92 727.2,750.92 728.2,751.3 735.1,751.3 736.4,750.92 737.3,750.92 738.3,751.3 745.2,751.3 746.5,751.12 747.4,751.12 748.4,751.3 755.3,751.3 756.6,750.92 757.5,750.92 758.5,751.3 765.4,751.3 766.7,750.92 767.6,750.92 768.6,751.3 771,751.3 771.7,751.8 773,725 774.2,710 775.6,722 777.4,735 780.5,722 784.3,708 786.5,726 788.5,740 791,722 793.2,708.5 794.6,730 795.7,751.8 797,751.6 797,751.6 798.3,751.23 799.2,751.23 800.2,751.6 807.1,751.6 808.4,751.23 809.3,751.23 810.3,751.6 817.2,751.6 818.5,751.43 819.4,751.43 820.4,751.6 827.3,751.6 828.6,751.23 829.5,751.23 830.5,751.6 837.4,751.6 838.7,751.23 839.6,751.23 840.6,751.6 847.5,751.6 848.8,751.43 849.7,751.43 850.7,751.6 857.6,751.6 858.9,751.23 859.8,751.23 860.8,751.6 867.7,751.6 869,751.23 869.9,751.23 870.9,751.6 877.8,751.6 879.1,751.43 880,751.43 881,751.6 887.9,751.6 889.2,751.23 890.1,751.23 891.1,751.6 898,751.6 899.3,751.23 900.2,751.23 901.2,751.6 908.1,751.6 909.4,751.43 910.3,751.43 911.3,751.6 918.2,751.6 919.5,751.23 920.4,751.23 921.4,751.6 928.3,751.6 929.6,751.23 930.5,751.23 931.5,751.6 938.4,751.6 939.7,751.43 940.6,751.43 941.6,751.6 948.5,751.6 949.8,751.23 950.7,751.23 951.7,751.6 958.6,751.6 959.9,751.23 960.8,751.23 961.8,751.6 968.7,751.6 970,751.43 970.9,751.43 971.9,751.6 978.8,751.6 980.1,751.23 981,751.23 982,751.6 988.9,751.6 990.2,751.23 991.1,751.23 992.1,751.6 999,751.6 1000.3,751.43 1001.2,751.43 1002.2,751.6 1009.1,751.6 1010.4,751.23 1011.3,751.23 1012.3,751.6 1019.2,751.6 1020.5,751.23 1021.4,751.23 1022.4,751.6 1029.3,751.6 1030.6,751.43 1031.5,751.43 1032.5,751.6 1039.4,751.6 1040.7,751.23 1041.6,751.23 1042.6,751.6 1049.5,751.6 1050.8,751.23 1051.7,751.23 1052.7,751.6 1056,751.6" fill="none" stroke="#ff0000" stroke-width="1.0" stroke-linejoin="round"/>
<polyline points="508.4,755.3 511.4,755.3 512.7,754.85 513.6,754.85 514.6,755.3 521.5,755.3 522.8,754.85 523.7,754.85 524.7,755.3 531.6,755.3 532.9,755.09 533.8,755.09 534.8,755.3 541.7,755.3 543,754.85 543.9,754.85 544.9,755.3 551.8,755.3 553.1,754.85 554,754.85 555,755.3 561.9,755.3 563.2,755.09 564.1,755.09 565.1,755.3 572,755.3 573.3,754.85 574.2,754.85 575.2,755.3 582.1,755.3 583.4,754.85 584.3,754.85 585.3,755.3 592.2,755.3 593.5,755.09 594.4,755.09 595.4,755.3 598,755.3 598.5,755.4 599.6,742 601,725.5 603.5,710 606.3,696 609,690.5 611.2,687.2 613.3,689.3 616,686.6 618.5,684.5 620.4,688.7 623.2,719.2 626.7,745.5 630.5,750.8 636,753 641,754.6 643,755 649,755 650.3,754.55 651.2,754.55 652.2,755 659.1,755 660.4,754.55 661.3,754.55 662.3,755 669.5,755 670,755 671.2,738 672.6,721.3 675.8,710.8 681,706.6 685,705.4 689,704 691.2,707.6 694.7,729.7 697.9,741.3 704.2,747.6 708.4,754.4 716.8,752.5 719,753.6 720.2,753.6 721.5,753.15 722.4,753.15 723.4,753.6 730.3,753.6 731.6,753.15 732.5,753.15 733.5,753.6 740.4,753.6 741.7,753.39 742.6,753.39 743.6,753.6 750.5,753.6 751.8,753.15 752.7,753.15 753.7,753.6 760.6,753.6 761.9,753.15 762.8,753.15 763.8,753.6 772.6,753.6 773.2,754 774.2,746 775.3,739 777.5,722 780.1,707 782,722 784.3,739 787.5,724 791.5,708.5 793.2,730 794.8,754 796,754 800.2,754 801.5,753.55 802.4,753.55 803.4,754 810.3,754 811.6,753.55 812.5,753.55 813.5,754 820.4,754 821.7,753.79 822.6,753.79 823.6,754 830.5,754 831.8,753.55 832.7,753.55 833.7,754 840.6,754 841.9,753.55 842.8,753.55 843.8,754 850.7,754 852,753.79 852.9,753.79 853.9,754 860.8,754 862.1,753.55 863,753.55 864,754 870.9,754 872.2,753.55 873.1,753.55 874.1,754 881,754 882.3,753.79 883.2,753.79 884.2,754 891.1,754 892.4,753.55 893.3,753.55 894.3,754 901.2,754 902.5,753.55 903.4,753.55 904.4,754 911.3,754 912.6,753.79 913.5,753.79 914.5,754 921.4,754 922.7,753.55 923.6,753.55 924.6,754 931.5,754 932.8,753.55 933.7,753.55 934.7,754 941.6,754 942.9,753.79 943.8,753.79 944.8,754 951.7,754 953,753.55 953.9,753.55 954.9,754 961.8,754 963.1,753.55 964,753.55 965,754 971.9,754 973.2,753.79 974.1,753.79 975.1,754 982,754 983.3,753.55 984.2,753.55 985.2,754 992.1,754 993.4,753.55 994.3,753.55 995.3,754 1002.2,754 1003.5,753.79 1004.4,753.79 1005.4,754 1012.3,754 1013.6,753.55 1014.5,753.55 1015.5,754 1022.4,754 1023.7,753.55 1024.6,753.55 1025.6,754 1032.5,754 1033.8,753.79 1034.7,753.79 1035.7,754 1042.6,754 1043.9,753.55 1044.8,753.55 1045.8,754 1052.7,754 1054,753.55 1054.9,753.55 1055.9,754 1056,754" fill="none" stroke="#008000" stroke-width="1.0" stroke-linejoin="round"/>
<polyline points="512.4,748.2 518.4,748.2 519.7,747.75 520.6,747.75 521.6,748.2 528.5,748.2 529.8,747.75 530.7,747.75 531.7,748.2 538.6,748.2 539.9,747.99 540.8,747.99 541.8,748.2 548.7,748.2 550,747.75 550.9,747.75 551.9,748.2 558.8,748.2 560.1,747.75 561,747.75 562,748.2 568.9,748.2 570.2,747.99 571.1,747.99 572.1,748.2 579,748.2 580.3,747.75 581.2,747.75 582.2,748.2 589.1,748.2 590.4,747.75 591.3,747.75 592.3,748.2 598,748.2 598.5,747.6 600,736 602.1,719.2 604.5,707 607.4,694 609.5,691.2 614,690.6 618.5,690.4 621.5,696 624.2,713 628,737 631.5,741 635.2,745 642.1,747.2 647.4,746.2 649,746.5 651.4,746.5 652.7,746.12 653.6,746.12 654.6,746.5 661.5,746.5 662.8,746.12 663.7,746.12 664.7,746.5 668,746.5 668.4,746.5 671,713 673.7,664.5 675.4,638.2 677.9,638.8 680,644.5 682.5,643.8 684.6,641.7 686.5,644.5 688.4,648.7 691.6,685.5 695.4,729.7 698.3,740.7 704.2,746 714.7,748 725.3,750.4 732,749.5 740,748.8 742,748.7 742.6,748.7 743.9,748.25 744.8,748.25 745.8,748.7 752.7,748.7 754,748.25 754.9,748.25 755.9,748.7 762.8,748.7 764.1,748.49 765,748.49 766,748.7 769.5,748.7 770,748.7 773.5,727 776.7,705.5 779,722 781.6,739 784,722 786.4,706 788.6,722 791,737 798.4,748.7 800,748.4 803.3,748.4 804.6,747.88 805.5,747.88 806.5,748.4 813.4,748.4 814.7,747.88 815.6,747.88 816.6,748.4 823.5,748.4 824.8,748.15 825.7,748.15 826.7,748.4 833.6,748.4 834.9,747.88 835.8,747.88 836.8,748.4 843.7,748.4 845,747.88 845.9,747.88 846.9,748.4 853.8,748.4 855.1,748.15 856,748.15 857,748.4 863.9,748.4 865.2,747.88 866.1,747.88 867.1,748.4 874,748.4 875.3,747.88 876.2,747.88 877.2,748.4 884.1,748.4 885.4,748.15 886.3,748.15 887.3,748.4 894.2,748.4 895.5,747.88 896.4,747.88 897.4,748.4 904.3,748.4 905.6,747.88 906.5,747.88 907.5,748.4 914.4,748.4 915.7,748.15 916.6,748.15 917.6,748.4 924.5,748.4 925.8,747.88 926.7,747.88 927.7,748.4 934.6,748.4 935.9,747.88 936.8,747.88 937.8,748.4 944.7,748.4 946,748.15 946.9,748.15 947.9,748.4 954.8,748.4 956.1,747.88 957,747.88 958,748.4 964.9,748.4 966.2,747.88 967.1,747.88 968.1,748.4 975,748.4 976.3,748.15 977.2,748.15 978.2,748.4 985.1,748.4 986.4,747.88 987.3,747.88 988.3,748.4 995.2,748.4 996.5,747.88 997.4,747.88 998.4,748.4 1005.3,748.4 1006.6,748.15 1007.5,748.15 1008.5,748.4 1015.4,748.4 1016.7,747.88 1017.6,747.88 1018.6,748.4 1025.5,748.4 1026.8,747.88 1027.7,747.88 1028.7,748.4 1035.6,748.4 1036.9,748.15 1037.8,748.15 1038.8,748.4 1045.7,748.4 1047,747.88 1047.9,747.88 1048.9,748.4 1054.6,748.4" fill="none" stroke="#0000ff" stroke-width="1.0" stroke-linejoin="round"/>
</svg>
</body></html>
